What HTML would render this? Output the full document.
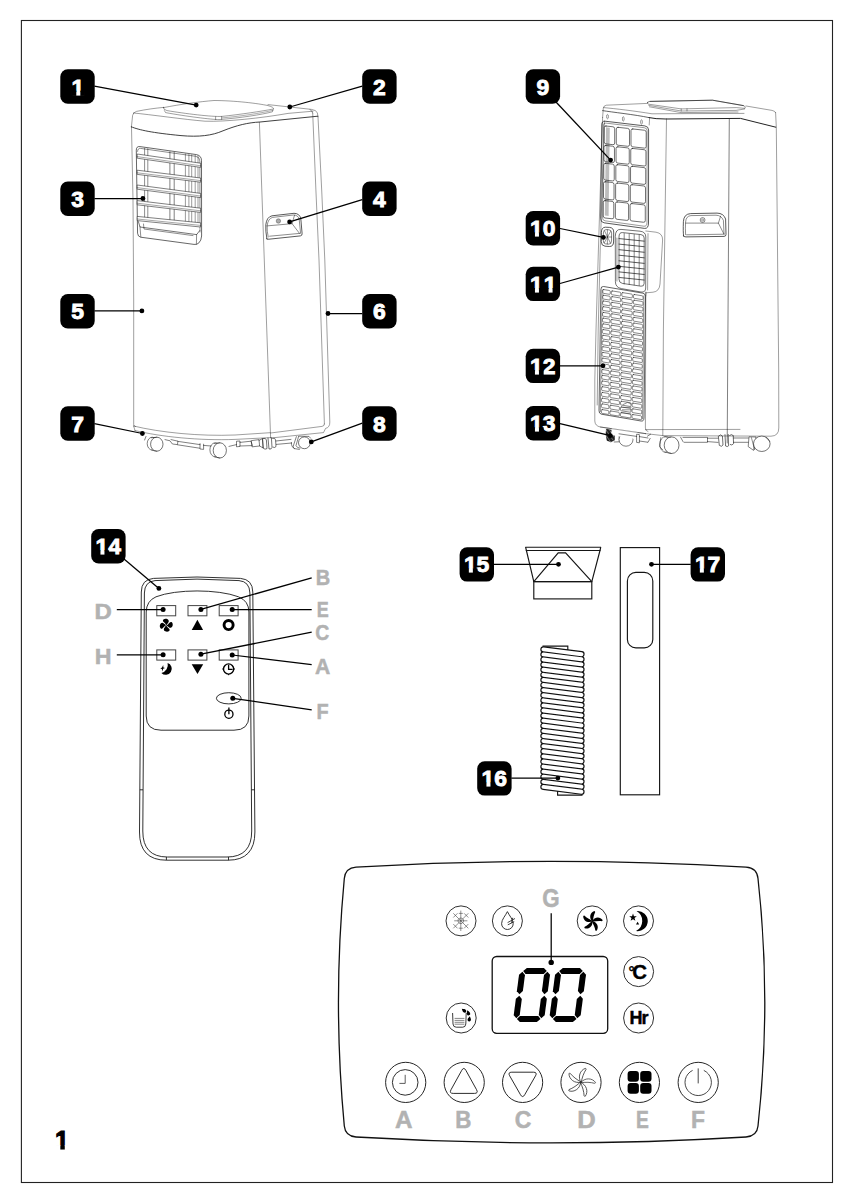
<!DOCTYPE html>
<html lang="en">
<head>
<meta charset="utf-8">
<title>1</title>
<style>
html,body{margin:0;padding:0;background:#fff;}
body{width:855px;height:1200px;overflow:hidden;font-family:'Liberation Sans', sans-serif;}
svg{display:block;}
svg text{font-family:"Liberation Sans",sans-serif;}
</style>
</head>
<body>
<svg width="855" height="1200" viewBox="0 0 855 1200">
<rect width="855" height="1200" fill="#fff"/>
<rect x="21.4" y="20.5" width="811.1" height="1162" fill="none" stroke="#222" stroke-width="1.1"/>
<path d="M131.5 127 L133 200 L133.7 300 L133.7 424.5 Q133.8 426 135.5 426.6" fill="none" stroke="#000" stroke-width="0.38" stroke-linecap="round" stroke-linejoin="round" />
<path d="M133.6 426 C160 432.5 200 436.5 235 435 L270 432.7" fill="none" stroke="#000" stroke-width="0.38" stroke-linecap="round" stroke-linejoin="round" />
<path d="M135 430.5 C160 436.8 200 440.8 235 439.4 L270.8 437.6" fill="none" stroke="#000" stroke-width="0.38" stroke-linecap="round" stroke-linejoin="round" />
<path d="M133.6 426 L135 430.5" fill="none" stroke="#000" stroke-width="0.38" stroke-linecap="round" stroke-linejoin="round" />
<path d="M259.4 122.4 L270.6 437.6" fill="none" stroke="#000" stroke-width="0.38" stroke-linecap="round" stroke-linejoin="round" />
<path d="M312.7 113 L315.9 190 L319 260 L324.4 424" fill="none" stroke="#000" stroke-width="0.38" stroke-linecap="round" stroke-linejoin="round" />
<path d="M318 116.8 L321.7 190 L324.8 260 L329.8 422 Q330 427.4 325.6 428.4 L323.5 432.6 L271 438" fill="none" stroke="#000" stroke-width="0.38" stroke-linecap="round" stroke-linejoin="round" />
<path d="M270.6 433 L322 426.4 Q324.6 426 324.4 424" fill="none" stroke="#000" stroke-width="0.38" stroke-linecap="round" stroke-linejoin="round" />
<path d="M131.4 127 L132.6 115.5 Q133 112.4 136.5 111.4 C146 109.4 155 108.2 163.5 107.4" fill="none" stroke="#000" stroke-width="0.38" stroke-linecap="round" stroke-linejoin="round" />
<path d="M268 104.6 L311.5 109.4 Q316.4 110 317.4 113 L318 116.8" fill="none" stroke="#000" stroke-width="0.38" stroke-linecap="round" stroke-linejoin="round" />
<path d="M312.7 113 Q312.4 110.4 310 109.6" fill="none" stroke="#000" stroke-width="0.38" stroke-linecap="round" stroke-linejoin="round" />
<path d="M133.4 113 C150 114.5 185 119.6 205 121.2 C225 122 262 118 288 113.4 L313 111.2" fill="none" stroke="#000" stroke-width="0.38" stroke-linecap="round" stroke-linejoin="round" />
<path d="M131.3 126.8 C139 130 152 132.8 181 135.6 C199 137.2 212 135.6 223 130.8 C237 125.2 248 122.6 260 122 L317.8 116.2" fill="none" stroke="#2a2a2a" stroke-width="0.9" stroke-linecap="round" stroke-linejoin="round" />
<path d="M163.5 107.6 C180 104.4 200 101.6 214 100.5 C235 100.6 258 103.4 268 105.6 Q274.5 107.4 273.4 109 C262 111.2 240 114.5 222 116.4 C212 117 185 113.6 167 110.6 Q162.6 109.4 163.5 107.6 Z" fill="none" stroke="#000" stroke-width="0.38" stroke-linecap="round" stroke-linejoin="round" />
<path d="M164.4 110.6 L165.6 112.6 C185 116.2 212 119.6 219 119.6 C240 118 262 114.6 272.4 111.8 L273.2 109.6" fill="none" stroke="#000" stroke-width="0.38" stroke-linecap="round" stroke-linejoin="round" />
<path d="M215.6 116.8 V119.6 M221.6 116.6 V119.4" fill="none" stroke="#000" stroke-width="0.38" stroke-linecap="round" stroke-linejoin="round" />
<path d="M222 117.9 C240 116.4 262 113 272.8 110.4" fill="none" stroke="#000" stroke-width="0.32" stroke-linecap="round" stroke-linejoin="round" />
<path d="M136.3 150 Q136.2 146 140 146.6 L196.5 154.6 Q201.4 155.6 201.5 160.5 L201.6 236 Q201.4 240.6 198.6 243.2 Q196.8 244.8 194 244.4 L140.6 237.2 Q137.8 236.6 137.6 233.6 Z" fill="none" stroke="#000" stroke-width="0.6" stroke-linecap="round" stroke-linejoin="round" />
<path d="M137.6 151.4 Q137.6 148 140.6 148.4 L195.8 156.3 Q199.8 157 199.9 161 L200 232" fill="none" stroke="#000" stroke-width="0.45" stroke-linecap="round" stroke-linejoin="round" />
<path d="M144.6 148.3 V219.2" fill="none" stroke="#000" stroke-width="0.45" stroke-linecap="round" stroke-linejoin="round" />
<path d="M147.8 148.7 V219.5" fill="none" stroke="#000" stroke-width="0.45" stroke-linecap="round" stroke-linejoin="round" />
<path d="M169.9 151.8 V221.7" fill="none" stroke="#000" stroke-width="0.5" stroke-linecap="round" stroke-linejoin="round" />
<path d="M174.2 152.4 V222.1" fill="none" stroke="#000" stroke-width="0.5" stroke-linecap="round" stroke-linejoin="round" />
<path d="M185.4 154.0 V223.3" fill="none" stroke="#000" stroke-width="0.4" stroke-linecap="round" stroke-linejoin="round" />
<path d="M188.9 154.5 V223.6" fill="none" stroke="#000" stroke-width="0.4" stroke-linecap="round" stroke-linejoin="round" />
<path d="M191.7 154.9 V223.9" fill="none" stroke="#000" stroke-width="0.4" stroke-linecap="round" stroke-linejoin="round" />
<path d="M195.2 155.4 V224.2" fill="none" stroke="#000" stroke-width="0.4" stroke-linecap="round" stroke-linejoin="round" />
<path d="M198 155.8 V224.5" fill="none" stroke="#000" stroke-width="0.4" stroke-linecap="round" stroke-linejoin="round" />
<path d="M137.2 154 L200.6 163.2 L200.6 167.39999999999998 L137.2 158.2 Z" fill="#fff" stroke="#000" stroke-width="0.5" stroke-linejoin="round"/>
<path d="M137.2 156.6 L200.6 165.79999999999998" fill="none" stroke="#000" stroke-width="0.35" stroke-linecap="round" stroke-linejoin="round" />
<path d="M137.2 170.2 L200.6 178 L200.6 182.2 L137.2 174.39999999999998 Z" fill="#fff" stroke="#000" stroke-width="0.5" stroke-linejoin="round"/>
<path d="M137.2 172.79999999999998 L200.6 180.6" fill="none" stroke="#000" stroke-width="0.35" stroke-linecap="round" stroke-linejoin="round" />
<path d="M137.2 185 L200.6 193.4 L200.6 197.6 L137.2 189.2 Z" fill="#fff" stroke="#000" stroke-width="0.5" stroke-linejoin="round"/>
<path d="M137.2 187.6 L200.6 196.0" fill="none" stroke="#000" stroke-width="0.35" stroke-linecap="round" stroke-linejoin="round" />
<path d="M137.2 200.6 L200.6 208.2 L200.6 212.39999999999998 L137.2 204.79999999999998 Z" fill="#fff" stroke="#000" stroke-width="0.5" stroke-linejoin="round"/>
<path d="M137.2 203.2 L200.6 210.79999999999998" fill="none" stroke="#000" stroke-width="0.35" stroke-linecap="round" stroke-linejoin="round" />
<path d="M137.2 216.4 L200.6 222.8 L200.6 227.0 L137.2 220.6 Z" fill="#fff" stroke="#000" stroke-width="0.5" stroke-linejoin="round"/>
<path d="M137.2 219.0 L200.6 225.4" fill="none" stroke="#000" stroke-width="0.35" stroke-linecap="round" stroke-linejoin="round" />
<path d="M138.4 221.6 L140 227 L196.6 234.6 L199.8 230.5" fill="none" stroke="#000" stroke-width="0.55" stroke-linecap="round" stroke-linejoin="round" />
<path d="M140 227 L140.8 236.8 M196.6 234.6 L196.4 244" fill="none" stroke="#000" stroke-width="0.45" stroke-linecap="round" stroke-linejoin="round" />
<path d="M143.5 224 L144 229 L193 235.6" fill="none" stroke="#000" stroke-width="0.45" stroke-linecap="round" stroke-linejoin="round" />
<path d="M266.9 238.9 Q265.4 231 265.8 224.8 Q266.6 217 272 215.8 L294 213.3 Q299.6 213.4 300.8 218.6 L302.1 233.6 Q302.3 235.6 300.4 235.9 L269 239.2 Q267.2 239.4 266.9 238.9 Z" fill="none" stroke="#000" stroke-width="0.65" stroke-linecap="round" stroke-linejoin="round" />
<path d="M268.2 237 Q266.8 231 267.2 225.6 Q268 218.6 272.6 217.4 L293.4 215 Q298.2 215 299.2 219.4 L300.6 233.4" fill="none" stroke="#000" stroke-width="0.45" stroke-linecap="round" stroke-linejoin="round" />
<path d="M267 225.9 L292.1 223.7 L299.5 233.4 M292.1 223.7 L294.5 215.2 M269.6 236.2 L299.5 233.4" fill="none" stroke="#000" stroke-width="0.45" stroke-linecap="round" stroke-linejoin="round" />
<circle cx="278.4" cy="221" r="2.2" fill="#aaa" stroke="#555" stroke-width="0.5"/>
<ellipse cx="152.20000000000002" cy="443.59999999999997" rx="5.0" ry="6.4" fill="#fff" stroke="#000" stroke-width="0.5"/>
<ellipse cx="156.8" cy="444.2" rx="6.2" ry="7" fill="#fff" stroke="#000" stroke-width="0.55"/>
<path d="M151.20000000000002 437.8 L156.8 437.2 M151.70000000000002 450.2 L156.8 451.2" fill="none" stroke="#000" stroke-width="0.45" stroke-linecap="round" stroke-linejoin="round" />
<ellipse cx="215.20000000000002" cy="449.79999999999995" rx="5.3" ry="7.0" fill="#fff" stroke="#000" stroke-width="0.5"/>
<ellipse cx="219.8" cy="450.4" rx="6.6" ry="7.6" fill="#fff" stroke="#000" stroke-width="0.55"/>
<path d="M214.20000000000002 443.4 L219.8 442.79999999999995 M214.70000000000002 457.0 L219.8 458.0" fill="none" stroke="#000" stroke-width="0.45" stroke-linecap="round" stroke-linejoin="round" />
<path d="M146 436.4 L144.6 440 M165 439.6 L170 440.8 L172.4 444 L177.4 444.6 L178 441.2 L171 439.6" fill="none" stroke="#000" stroke-width="0.5" stroke-linecap="round" stroke-linejoin="round" />
<path d="M178 441.4 L200 444.6 M177.6 444.8 L199.6 448.2 M200 443.6 V449 L203.6 449.4 V444.2" fill="none" stroke="#000" stroke-width="0.5" stroke-linecap="round" stroke-linejoin="round" />
<path d="M203.6 445.4 L211 446 M229 446.4 L236.5 444.6 M236.5 441.6 V446.8 L240 446.4 V441.4 Z" fill="none" stroke="#000" stroke-width="0.5" stroke-linecap="round" stroke-linejoin="round" />
<path d="M240 442.4 L251 441.2 L252.4 445.6 L240 446" fill="none" stroke="#000" stroke-width="0.5" stroke-linecap="round" stroke-linejoin="round" />
<path d="M251.6 440.6 L259 439.6 L259.6 446 L252.4 446.8 Z M259 440.4 L262.4 438.6 L263.2 448 L259.6 446" fill="none" stroke="#000" stroke-width="0.5" stroke-linecap="round" stroke-linejoin="round" />
<path d="M263 438.4 Q266 437.6 266.4 440 L267 448.6 Q265 450 263.4 448.4 Z M268 438 L269 449 Q271.6 449.6 272 447.4 L271.4 437.8 M272.6 438.2 Q275.4 437.6 275.6 440 L276 446.6 Q274.6 448.2 273 447.2" fill="none" stroke="#000" stroke-width="0.55" stroke-linecap="round" stroke-linejoin="round" />
<path d="M276 441 L291 439.4 M276.4 444.4 L291.6 443" fill="none" stroke="#000" stroke-width="0.5" stroke-linecap="round" stroke-linejoin="round" />
<circle cx="304.4" cy="442.8" r="5.9" fill="#fff" stroke="#000" stroke-width="0.55"/>
<path d="M298.6 436.4 L296 445.6 Q297 448 300 448.2 M296.4 436.6 L293.6 445 Q292 447.4 294.4 448.6 L299.4 449.4 M291.4 442.6 Q291 446.8 294.4 448.6 M299 436.2 L309 436.4 L310.6 438.2" fill="none" stroke="#000" stroke-width="0.5" stroke-linecap="round" stroke-linejoin="round" />
<path d="M602.6 117.4 L598.4 250 L596 330 L594.8 380 L594.8 421 Q595 426 600.4 427 L645.4 433.6" fill="none" stroke="#000" stroke-width="0.38" stroke-linecap="round" stroke-linejoin="round" />
<path d="M604.4 121 L600.2 250 L598.2 330 L597.2 405" fill="none" stroke="#000" stroke-width="0.38" stroke-linecap="round" stroke-linejoin="round" />
<path d="M649.6 118 L649.2 125 M645.8 292 L645.4 428 Q645.6 431 648 431.6" fill="none" stroke="#000" stroke-width="0.38" stroke-linecap="round" stroke-linejoin="round" />
<path d="M666.5 118.8 L663.4 330 L662.8 435.6" fill="none" stroke="#000" stroke-width="0.38" stroke-linecap="round" stroke-linejoin="round" />
<path d="M729.3 118.8 L727.2 443" fill="none" stroke="#000" stroke-width="0.5" stroke-linecap="round" stroke-linejoin="round" />
<path d="M650 101.4 L712.5 100.2 L743.4 105.6" fill="none" stroke="#000" stroke-width="0.55" stroke-linecap="round" stroke-linejoin="round" />
<path d="M775.6 112.6 L776.3 127.2 L778.7 370 L778.8 428 Q778.8 436 771 436.2 L733.5 436" fill="none" stroke="#000" stroke-width="0.38" stroke-linecap="round" stroke-linejoin="round" />
<path d="M645.4 429.6 L740 429.4 M645.4 433.6 L662.8 435.6 L733.5 436" fill="none" stroke="#000" stroke-width="0.38" stroke-linecap="round" stroke-linejoin="round" />
<path d="M602.6 117.4 L603.3 108.4 Q603.6 105.4 606.5 105.2 L647.5 103.4" fill="none" stroke="#000" stroke-width="0.38" stroke-linecap="round" stroke-linejoin="round" />
<path d="M746 106 L772 110.4 Q775.2 111 775.6 112.6" fill="none" stroke="#000" stroke-width="0.38" stroke-linecap="round" stroke-linejoin="round" />
<path d="M603.6 107.6 C615 108.6 635 111 652 113.8 L690 113.6 L744 113.4" fill="none" stroke="#000" stroke-width="0.38" stroke-linecap="round" stroke-linejoin="round" />
<path d="M602.6 110.6 C612 112.2 635 114.6 649 117.6" fill="none" stroke="#222" stroke-width="0.7" stroke-linecap="round" stroke-linejoin="round" />
<path d="M649 117.6 Q655 119 666 119 L740.5 118.4 L775.8 127.2" fill="none" stroke="#222" stroke-width="1.0" stroke-linecap="round" stroke-linejoin="round" />
<path d="M647.5 102.6 Q647 101.5 650 101.4 L712.5 100.2 L743.4 105.6 Q746.4 106.6 745 108.4 L736.3 107.6 L681.2 108.9 L648.6 104.2 Q647.4 103.6 647.5 102.6 Z" fill="none" stroke="#000" stroke-width="0.38" stroke-linecap="round" stroke-linejoin="round" />
<path d="M648.8 105.4 L681.2 111 L736 110.4 L744.6 109 M681.2 108.9 V111 M687 108.8 V110.9 M649.4 106.8 L681 112.6 L738 112 " fill="none" stroke="#000" stroke-width="0.38" stroke-linecap="round" stroke-linejoin="round" />
<ellipse cx="607.5" cy="116.6" rx="0.9" ry="2.2" fill="none" stroke="#000" stroke-width="0.4"/>
<ellipse cx="623.3" cy="118.9" rx="0.9" ry="2.2" fill="none" stroke="#000" stroke-width="0.4"/>
<ellipse cx="641.5" cy="122" rx="0.9" ry="2.2" fill="none" stroke="#000" stroke-width="0.4"/>
<path d="M601.8 124.6 Q601.8 120.8 605 121.2 L644.8 125.9 Q648.6 126.5 648.6 130 L648.5 223 Q648.4 228.8 644.6 228.4 L604 222.8 Q600.6 222.2 600.7 219 Z" fill="none" stroke="#111" stroke-width="0.7" stroke-linecap="round" stroke-linejoin="round" />
<path d="M603.4 125.4 Q603.4 122.8 605.8 123.1 L644.2 127.7 Q647.1 128.1 647.1 130.7 L647 222.6 Q646.9 226.6 643.9 226.2 L605 220.8 Q602.4 220.4 602.5 218 Z" fill="none" stroke="#000" stroke-width="0.4" stroke-linecap="round" stroke-linejoin="round" />
<path d="M606 127.2 L609.8 127.7 L608.6 216 L604.8 215.4 Z" fill="#bdbdbd"/>
<path d="M605.99 126.00 L612.89 126.76 Q614.69 126.96 614.69 128.76 L614.69 143.06 Q614.69 144.86 612.89 144.66 L605.99 143.90 Q604.19 143.70 604.19 141.90 L604.19 127.60 Q604.19 125.80 605.99 126.00 Z" fill="none" stroke="#222" stroke-width="0.65" stroke-linecap="round" stroke-linejoin="round" />
<path d="M605.76 145.47 L612.66 146.23 Q614.46 146.43 614.46 148.23 L614.46 160.93 Q614.46 162.73 612.66 162.53 L605.76 161.77 Q603.96 161.57 603.96 159.77 L603.96 147.07 Q603.96 145.27 605.76 145.47 Z" fill="none" stroke="#222" stroke-width="0.65" stroke-linecap="round" stroke-linejoin="round" />
<path d="M605.54 163.35 L612.44 164.11 Q614.24 164.31 614.24 166.11 L614.24 179.31 Q614.24 181.11 612.44 180.91 L605.54 180.15 Q603.74 179.95 603.74 178.15 L603.74 164.95 Q603.74 163.15 605.54 163.35 Z" fill="none" stroke="#222" stroke-width="0.65" stroke-linecap="round" stroke-linejoin="round" />
<path d="M605.32 181.72 L612.22 182.48 Q614.02 182.68 614.02 184.48 L614.02 198.28 Q614.02 200.08 612.22 199.88 L605.32 199.12 Q603.52 198.93 603.52 197.13 L603.52 183.33 Q603.52 181.53 605.32 181.72 Z" fill="none" stroke="#222" stroke-width="0.65" stroke-linecap="round" stroke-linejoin="round" />
<path d="M605.09 200.60 L611.99 201.36 Q613.79 201.56 613.79 203.36 L613.79 217.16 Q613.79 218.96 611.99 218.76 L605.09 218.00 Q603.29 217.80 603.29 216.00 L603.29 202.20 Q603.29 200.40 605.09 200.60 Z" fill="none" stroke="#222" stroke-width="0.65" stroke-linecap="round" stroke-linejoin="round" />
<path d="M618.09 127.33 L627.69 128.39 Q629.49 128.59 629.49 130.39 L629.49 144.69 Q629.49 146.49 627.69 146.29 L618.09 145.23 Q616.29 145.03 616.29 143.23 L616.29 128.93 Q616.29 127.13 618.09 127.33 Z" fill="none" stroke="#222" stroke-width="0.65" stroke-linecap="round" stroke-linejoin="round" />
<path d="M617.86 146.81 L627.46 147.87 Q629.26 148.06 629.26 149.86 L629.26 162.56 Q629.26 164.36 627.46 164.17 L617.86 163.11 Q616.06 162.91 616.06 161.11 L616.06 148.41 Q616.06 146.61 617.86 146.81 Z" fill="none" stroke="#222" stroke-width="0.65" stroke-linecap="round" stroke-linejoin="round" />
<path d="M617.64 164.68 L627.24 165.74 Q629.04 165.94 629.04 167.74 L629.04 180.94 Q629.04 182.74 627.24 182.54 L617.64 181.48 Q615.84 181.28 615.84 179.48 L615.84 166.28 Q615.84 164.48 617.64 164.68 Z" fill="none" stroke="#222" stroke-width="0.65" stroke-linecap="round" stroke-linejoin="round" />
<path d="M617.42 183.06 L627.02 184.12 Q628.82 184.32 628.82 186.12 L628.82 199.92 Q628.82 201.72 627.02 201.52 L617.42 200.46 Q615.62 200.26 615.62 198.46 L615.62 184.66 Q615.62 182.86 617.42 183.06 Z" fill="none" stroke="#222" stroke-width="0.65" stroke-linecap="round" stroke-linejoin="round" />
<path d="M617.19 201.93 L626.79 202.99 Q628.59 203.19 628.59 204.99 L628.59 218.79 Q628.59 220.59 626.79 220.39 L617.19 219.33 Q615.39 219.14 615.39 217.34 L615.39 203.54 Q615.39 201.74 617.19 201.93 Z" fill="none" stroke="#222" stroke-width="0.65" stroke-linecap="round" stroke-linejoin="round" />
<path d="M632.79 128.95 L644.39 130.23 Q646.19 130.43 646.19 132.23 L646.19 146.53 Q646.19 148.33 644.39 148.13 L632.79 146.85 Q630.99 146.66 630.99 144.86 L630.99 130.56 Q630.99 128.76 632.79 128.95 Z" fill="none" stroke="#222" stroke-width="0.65" stroke-linecap="round" stroke-linejoin="round" />
<path d="M632.56 148.43 L644.16 149.71 Q645.96 149.91 645.96 151.71 L645.96 164.41 Q645.96 166.21 644.16 166.01 L632.56 164.73 Q630.76 164.53 630.76 162.73 L630.76 150.03 Q630.76 148.23 632.56 148.43 Z" fill="none" stroke="#222" stroke-width="0.65" stroke-linecap="round" stroke-linejoin="round" />
<path d="M632.34 166.30 L643.94 167.58 Q645.74 167.78 645.74 169.58 L645.74 182.78 Q645.74 184.58 643.94 184.38 L632.34 183.10 Q630.54 182.91 630.54 181.11 L630.54 167.91 Q630.54 166.11 632.34 166.30 Z" fill="none" stroke="#222" stroke-width="0.65" stroke-linecap="round" stroke-linejoin="round" />
<path d="M632.12 184.68 L643.72 185.96 Q645.52 186.16 645.52 187.96 L645.52 201.76 Q645.52 203.56 643.72 203.36 L632.12 202.08 Q630.32 201.88 630.32 200.08 L630.32 186.28 Q630.32 184.48 632.12 184.68 Z" fill="none" stroke="#222" stroke-width="0.65" stroke-linecap="round" stroke-linejoin="round" />
<path d="M631.89 203.56 L643.49 204.84 Q645.29 205.03 645.29 206.83 L645.29 220.63 Q645.29 222.43 643.49 222.24 L631.89 220.96 Q630.09 220.76 630.09 218.96 L630.09 205.16 Q630.09 203.36 631.89 203.56 Z" fill="none" stroke="#222" stroke-width="0.65" stroke-linecap="round" stroke-linejoin="round" />
<path d="M601.4 232 Q601.4 227.4 605.4 227.2 L609.6 227.4 Q613.7 227.8 613.7 232 L613.6 242 Q613.4 246.6 609.4 246.5 L605 246.2 Q601.2 245.8 601.3 242 Z" fill="none" stroke="#111" stroke-width="0.7" stroke-linecap="round" stroke-linejoin="round" />
<path d="M603.4 232.6 Q603.4 229.6 606 229.6 L609 229.8 Q611.6 230 611.6 233 L611.5 241 Q611.4 244.2 608.8 244.1 L605.6 243.9 Q603.2 243.7 603.3 241 Z" fill="none" stroke="#111" stroke-width="0.5" stroke-linecap="round" stroke-linejoin="round" />
<path d="M604.6 231 L610.4 243 M610.6 231.4 L604.4 242.6 M607.4 229.8 V244 M603.4 237 H611.5" fill="none" stroke="#111" stroke-width="0.45" stroke-linecap="round" stroke-linejoin="round" />
<path d="M615.3 236 Q615.4 229 621 229.4 L640 231.2 Q645.8 231.8 645.8 237 L645.7 288 Q645.6 292.6 641 292 L621.4 288.6 Q615.4 287.4 615.4 282 Z" fill="none" stroke="#000" stroke-width="0.55" stroke-linecap="round" stroke-linejoin="round" />
<path d="M619 236.6 Q619 232.2 622.6 232.6 L641 234.6 Q644.2 235 644.2 238 L644.1 283.6 Q644 286.6 641 286.2 L622.4 283.4 Q619 282.8 619 279.6 Z" fill="none" stroke="#111" stroke-width="0.6" stroke-linecap="round" stroke-linejoin="round" />
<path d="M616.9 238 L616.9 281" fill="none" stroke="#aaa" stroke-width="1.2" stroke-linecap="round" stroke-linejoin="round" />
<path d="M619 238.56 L644.2 241.16" fill="none" stroke="#222" stroke-width="0.75" stroke-linecap="round" stroke-linejoin="round" />
<path d="M619 244.11 L644.2 246.71" fill="none" stroke="#222" stroke-width="0.75" stroke-linecap="round" stroke-linejoin="round" />
<path d="M619 249.67 L644.2 252.27" fill="none" stroke="#222" stroke-width="0.75" stroke-linecap="round" stroke-linejoin="round" />
<path d="M619 255.22 L644.2 257.82" fill="none" stroke="#222" stroke-width="0.75" stroke-linecap="round" stroke-linejoin="round" />
<path d="M619 260.78 L644.2 263.38" fill="none" stroke="#222" stroke-width="0.75" stroke-linecap="round" stroke-linejoin="round" />
<path d="M619 266.33 L644.2 268.93" fill="none" stroke="#222" stroke-width="0.75" stroke-linecap="round" stroke-linejoin="round" />
<path d="M619 271.89 L644.2 274.49" fill="none" stroke="#222" stroke-width="0.75" stroke-linecap="round" stroke-linejoin="round" />
<path d="M619 277.44 L644.2 280.04" fill="none" stroke="#222" stroke-width="0.75" stroke-linecap="round" stroke-linejoin="round" />
<path d="M624.2 233.52 V283.92" fill="none" stroke="#222" stroke-width="0.55" stroke-linecap="round" stroke-linejoin="round" />
<path d="M629.2 234.02 V284.42" fill="none" stroke="#222" stroke-width="0.55" stroke-linecap="round" stroke-linejoin="round" />
<path d="M634.2 234.52 V284.92" fill="none" stroke="#222" stroke-width="0.55" stroke-linecap="round" stroke-linejoin="round" />
<path d="M639.2 235.02 V285.42" fill="none" stroke="#222" stroke-width="0.55" stroke-linecap="round" stroke-linejoin="round" />
<path d="M645.8 231 L656 232.2 Q662.8 233.4 662.6 240 L660 284 Q659.4 291.6 653 292.2 L646 292.8" fill="none" stroke="#000" stroke-width="0.38" stroke-linecap="round" stroke-linejoin="round" />
<path d="M648 233.6 L647.6 290 M646 292.8 L645.8 296" fill="none" stroke="#000" stroke-width="0.38" stroke-linecap="round" stroke-linejoin="round" />
<path d="M600.9 289 Q601 286 603.6 286.5 L643 293.2 Q645.5 293.8 645.5 296.4 L644 418 Q643.8 421.6 641 421 L601.4 414.2 Q598.9 413.6 599 411 Z" fill="none" stroke="#111" stroke-width="0.65" stroke-linecap="round" stroke-linejoin="round" />
<path d="M602.2 289.8 L600.3 411.6 M643.9 296 L642.6 418.8" fill="none" stroke="#000" stroke-width="0.45" stroke-linecap="round" stroke-linejoin="round" />
<path d="M603.70 289.55 L609.35 290.47 Q610.25 290.61 610.25 291.51 L610.25 293.54 Q610.25 294.44 609.35 294.29 L603.70 293.38 Q602.80 293.23 602.80 292.33 L602.80 290.31 Q602.80 289.41 603.70 289.55 Z" fill="none" stroke="#222" stroke-width="0.55" stroke-linecap="round" stroke-linejoin="round" />
<path d="M612.25 290.94 L619.85 292.17 Q620.75 292.31 620.75 293.21 L620.75 295.24 Q620.75 296.14 619.85 295.99 L612.25 294.76 Q611.35 294.62 611.35 293.72 L611.35 291.69 Q611.35 290.79 612.25 290.94 Z" fill="none" stroke="#222" stroke-width="0.55" stroke-linecap="round" stroke-linejoin="round" />
<path d="M622.75 292.64 L631.45 294.04 Q632.35 294.19 632.35 295.09 L632.35 297.12 Q632.35 298.02 631.45 297.87 L622.75 296.46 Q621.85 296.32 621.85 295.42 L621.85 293.39 Q621.85 292.49 622.75 292.64 Z" fill="none" stroke="#222" stroke-width="0.55" stroke-linecap="round" stroke-linejoin="round" />
<path d="M634.35 294.51 L642.15 295.77 Q643.05 295.92 643.05 296.82 L643.05 298.85 Q643.05 299.75 642.15 299.60 L634.35 298.34 Q633.45 298.19 633.45 297.29 L633.45 295.27 Q633.45 294.37 634.35 294.51 Z" fill="none" stroke="#222" stroke-width="0.55" stroke-linecap="round" stroke-linejoin="round" />
<path d="M603.63 295.27 L609.28 296.18 Q610.18 296.33 610.18 297.23 L610.18 299.26 Q610.18 300.16 609.28 300.01 L603.63 299.10 Q602.73 298.95 602.73 298.05 L602.73 296.02 Q602.73 295.12 603.63 295.27 Z" fill="none" stroke="#222" stroke-width="0.55" stroke-linecap="round" stroke-linejoin="round" />
<path d="M612.18 296.65 L619.78 297.88 Q620.68 298.03 620.68 298.93 L620.68 300.96 Q620.68 301.86 619.78 301.71 L612.18 300.48 Q611.28 300.33 611.28 299.43 L611.28 297.41 Q611.28 296.51 612.18 296.65 Z" fill="none" stroke="#222" stroke-width="0.55" stroke-linecap="round" stroke-linejoin="round" />
<path d="M622.68 298.35 L631.38 299.76 Q632.28 299.90 632.28 300.80 L632.28 302.83 Q632.28 303.73 631.38 303.59 L622.68 302.18 Q621.78 302.03 621.78 301.13 L621.78 299.11 Q621.78 298.21 622.68 298.35 Z" fill="none" stroke="#222" stroke-width="0.55" stroke-linecap="round" stroke-linejoin="round" />
<path d="M634.28 300.23 L642.08 301.49 Q642.98 301.64 642.98 302.54 L642.98 304.56 Q642.98 305.46 642.08 305.32 L634.28 304.06 Q633.38 303.91 633.38 303.01 L633.38 300.98 Q633.38 300.08 634.28 300.23 Z" fill="none" stroke="#222" stroke-width="0.55" stroke-linecap="round" stroke-linejoin="round" />
<path d="M603.56 300.99 L609.21 301.90 Q610.11 302.05 610.11 302.95 L610.11 304.97 Q610.11 305.87 609.21 305.73 L603.56 304.81 Q602.66 304.67 602.66 303.77 L602.66 301.74 Q602.66 300.84 603.56 300.99 Z" fill="none" stroke="#222" stroke-width="0.55" stroke-linecap="round" stroke-linejoin="round" />
<path d="M612.11 302.37 L619.71 303.60 Q620.61 303.74 620.61 304.64 L620.61 306.67 Q620.61 307.57 619.71 307.43 L612.11 306.20 Q611.21 306.05 611.21 305.15 L611.21 303.12 Q611.21 302.22 612.11 302.37 Z" fill="none" stroke="#222" stroke-width="0.55" stroke-linecap="round" stroke-linejoin="round" />
<path d="M622.61 304.07 L631.31 305.48 Q632.21 305.62 632.21 306.52 L632.21 308.55 Q632.21 309.45 631.31 309.30 L622.61 307.89 Q621.71 307.75 621.71 306.85 L621.71 304.82 Q621.71 303.92 622.61 304.07 Z" fill="none" stroke="#222" stroke-width="0.55" stroke-linecap="round" stroke-linejoin="round" />
<path d="M634.21 305.94 L642.01 307.21 Q642.91 307.35 642.91 308.25 L642.91 310.28 Q642.91 311.18 642.01 311.03 L634.21 309.77 Q633.31 309.63 633.31 308.73 L633.31 306.70 Q633.31 305.80 634.21 305.94 Z" fill="none" stroke="#222" stroke-width="0.55" stroke-linecap="round" stroke-linejoin="round" />
<path d="M603.49 306.70 L609.14 307.62 Q610.04 307.76 610.04 308.66 L610.04 310.69 Q610.04 311.59 609.14 311.44 L603.49 310.53 Q602.59 310.38 602.59 309.48 L602.59 307.46 Q602.59 306.56 603.49 306.70 Z" fill="none" stroke="#222" stroke-width="0.55" stroke-linecap="round" stroke-linejoin="round" />
<path d="M612.04 308.08 L619.64 309.31 Q620.54 309.46 620.54 310.36 L620.54 312.39 Q620.54 313.29 619.64 313.14 L612.04 311.91 Q611.14 311.77 611.14 310.87 L611.14 308.84 Q611.14 307.94 612.04 308.08 Z" fill="none" stroke="#222" stroke-width="0.55" stroke-linecap="round" stroke-linejoin="round" />
<path d="M622.54 309.78 L631.24 311.19 Q632.14 311.34 632.14 312.24 L632.14 314.26 Q632.14 315.16 631.24 315.02 L622.54 313.61 Q621.64 313.47 621.64 312.57 L621.64 310.54 Q621.64 309.64 622.54 309.78 Z" fill="none" stroke="#222" stroke-width="0.55" stroke-linecap="round" stroke-linejoin="round" />
<path d="M634.14 311.66 L641.94 312.92 Q642.84 313.07 642.84 313.97 L642.84 316.00 Q642.84 316.90 641.94 316.75 L634.14 315.49 Q633.24 315.34 633.24 314.44 L633.24 312.41 Q633.24 311.51 634.14 311.66 Z" fill="none" stroke="#222" stroke-width="0.55" stroke-linecap="round" stroke-linejoin="round" />
<path d="M603.43 312.42 L609.08 313.33 Q609.98 313.48 609.98 314.38 L609.98 316.40 Q609.98 317.30 609.08 317.16 L603.43 316.24 Q602.53 316.10 602.53 315.20 L602.53 313.17 Q602.53 312.27 603.43 312.42 Z" fill="none" stroke="#222" stroke-width="0.55" stroke-linecap="round" stroke-linejoin="round" />
<path d="M611.98 313.80 L619.58 315.03 Q620.48 315.18 620.48 316.08 L620.48 318.10 Q620.48 319.00 619.58 318.86 L611.98 317.63 Q611.08 317.48 611.08 316.58 L611.08 314.56 Q611.08 313.66 611.98 313.80 Z" fill="none" stroke="#222" stroke-width="0.55" stroke-linecap="round" stroke-linejoin="round" />
<path d="M622.48 315.50 L631.18 316.91 Q632.08 317.05 632.08 317.95 L632.08 319.98 Q632.08 320.88 631.18 320.73 L622.48 319.33 Q621.58 319.18 621.58 318.28 L621.58 316.25 Q621.58 315.35 622.48 315.50 Z" fill="none" stroke="#222" stroke-width="0.55" stroke-linecap="round" stroke-linejoin="round" />
<path d="M634.08 317.38 L641.88 318.64 Q642.78 318.78 642.78 319.68 L642.78 321.71 Q642.78 322.61 641.88 322.47 L634.08 321.20 Q633.18 321.06 633.18 320.16 L633.18 318.13 Q633.18 317.23 634.08 317.38 Z" fill="none" stroke="#222" stroke-width="0.55" stroke-linecap="round" stroke-linejoin="round" />
<path d="M603.36 318.13 L609.01 319.05 Q609.91 319.19 609.91 320.09 L609.91 322.12 Q609.91 323.02 609.01 322.88 L603.36 321.96 Q602.46 321.82 602.46 320.92 L602.46 318.89 Q602.46 317.99 603.36 318.13 Z" fill="none" stroke="#222" stroke-width="0.55" stroke-linecap="round" stroke-linejoin="round" />
<path d="M611.91 319.52 L619.51 320.75 Q620.41 320.89 620.41 321.79 L620.41 323.82 Q620.41 324.72 619.51 324.57 L611.91 323.34 Q611.01 323.20 611.01 322.30 L611.01 320.27 Q611.01 319.37 611.91 319.52 Z" fill="none" stroke="#222" stroke-width="0.55" stroke-linecap="round" stroke-linejoin="round" />
<path d="M622.41 321.22 L631.11 322.62 Q632.01 322.77 632.01 323.67 L632.01 325.70 Q632.01 326.60 631.11 326.45 L622.41 325.04 Q621.51 324.90 621.51 324.00 L621.51 321.97 Q621.51 321.07 622.41 321.22 Z" fill="none" stroke="#222" stroke-width="0.55" stroke-linecap="round" stroke-linejoin="round" />
<path d="M634.01 323.09 L641.81 324.35 Q642.71 324.50 642.71 325.40 L642.71 327.43 Q642.71 328.33 641.81 328.18 L634.01 326.92 Q633.11 326.77 633.11 325.87 L633.11 323.85 Q633.11 322.95 634.01 323.09 Z" fill="none" stroke="#222" stroke-width="0.55" stroke-linecap="round" stroke-linejoin="round" />
<path d="M603.29 323.85 L608.94 324.76 Q609.84 324.91 609.84 325.81 L609.84 327.84 Q609.84 328.74 608.94 328.59 L603.29 327.68 Q602.39 327.53 602.39 326.63 L602.39 324.60 Q602.39 323.70 603.29 323.85 Z" fill="none" stroke="#222" stroke-width="0.55" stroke-linecap="round" stroke-linejoin="round" />
<path d="M611.84 325.23 L619.44 326.46 Q620.34 326.61 620.34 327.51 L620.34 329.54 Q620.34 330.44 619.44 330.29 L611.84 329.06 Q610.94 328.91 610.94 328.01 L610.94 325.99 Q610.94 325.09 611.84 325.23 Z" fill="none" stroke="#222" stroke-width="0.55" stroke-linecap="round" stroke-linejoin="round" />
<path d="M622.34 326.93 L631.04 328.34 Q631.94 328.49 631.94 329.39 L631.94 331.41 Q631.94 332.31 631.04 332.17 L622.34 330.76 Q621.44 330.61 621.44 329.71 L621.44 327.69 Q621.44 326.79 622.34 326.93 Z" fill="none" stroke="#222" stroke-width="0.55" stroke-linecap="round" stroke-linejoin="round" />
<path d="M633.94 328.81 L641.74 330.07 Q642.64 330.22 642.64 331.12 L642.64 333.14 Q642.64 334.04 641.74 333.90 L633.94 332.64 Q633.04 332.49 633.04 331.59 L633.04 329.56 Q633.04 328.66 633.94 328.81 Z" fill="none" stroke="#222" stroke-width="0.55" stroke-linecap="round" stroke-linejoin="round" />
<path d="M603.22 329.57 L608.87 330.48 Q609.77 330.63 609.77 331.53 L609.77 333.55 Q609.77 334.45 608.87 334.31 L603.22 333.39 Q602.32 333.25 602.32 332.35 L602.32 330.32 Q602.32 329.42 603.22 329.57 Z" fill="none" stroke="#222" stroke-width="0.55" stroke-linecap="round" stroke-linejoin="round" />
<path d="M611.77 330.95 L619.37 332.18 Q620.27 332.32 620.27 333.22 L620.27 335.25 Q620.27 336.15 619.37 336.01 L611.77 334.78 Q610.87 334.63 610.87 333.73 L610.87 331.70 Q610.87 330.80 611.77 330.95 Z" fill="none" stroke="#222" stroke-width="0.55" stroke-linecap="round" stroke-linejoin="round" />
<path d="M622.27 332.65 L630.97 334.06 Q631.87 334.20 631.87 335.10 L631.87 337.13 Q631.87 338.03 630.97 337.88 L622.27 336.48 Q621.37 336.33 621.37 335.43 L621.37 333.40 Q621.37 332.50 622.27 332.65 Z" fill="none" stroke="#222" stroke-width="0.55" stroke-linecap="round" stroke-linejoin="round" />
<path d="M633.87 334.53 L641.67 335.79 Q642.57 335.93 642.57 336.83 L642.57 338.86 Q642.57 339.76 641.67 339.61 L633.87 338.35 Q632.97 338.21 632.97 337.31 L632.97 335.28 Q632.97 334.38 633.87 334.53 Z" fill="none" stroke="#222" stroke-width="0.55" stroke-linecap="round" stroke-linejoin="round" />
<path d="M603.15 335.28 L608.80 336.20 Q609.70 336.34 609.70 337.24 L609.70 339.27 Q609.70 340.17 608.80 340.02 L603.15 339.11 Q602.25 338.96 602.25 338.06 L602.25 336.04 Q602.25 335.14 603.15 335.28 Z" fill="none" stroke="#222" stroke-width="0.55" stroke-linecap="round" stroke-linejoin="round" />
<path d="M611.70 336.67 L619.30 337.90 Q620.20 338.04 620.20 338.94 L620.20 340.97 Q620.20 341.87 619.30 341.72 L611.70 340.49 Q610.80 340.35 610.80 339.45 L610.80 337.42 Q610.80 336.52 611.70 336.67 Z" fill="none" stroke="#222" stroke-width="0.55" stroke-linecap="round" stroke-linejoin="round" />
<path d="M622.20 338.36 L630.90 339.77 Q631.80 339.92 631.80 340.82 L631.80 342.85 Q631.80 343.75 630.90 343.60 L622.20 342.19 Q621.30 342.05 621.30 341.15 L621.30 339.12 Q621.30 338.22 622.20 338.36 Z" fill="none" stroke="#222" stroke-width="0.55" stroke-linecap="round" stroke-linejoin="round" />
<path d="M633.80 340.24 L641.60 341.50 Q642.50 341.65 642.50 342.55 L642.50 344.58 Q642.50 345.48 641.60 345.33 L633.80 344.07 Q632.90 343.92 632.90 343.02 L632.90 341.00 Q632.90 340.10 633.80 340.24 Z" fill="none" stroke="#222" stroke-width="0.55" stroke-linecap="round" stroke-linejoin="round" />
<path d="M603.08 341.00 L608.73 341.91 Q609.63 342.06 609.63 342.96 L609.63 344.99 Q609.63 345.89 608.73 345.74 L603.08 344.83 Q602.18 344.68 602.18 343.78 L602.18 341.75 Q602.18 340.85 603.08 341.00 Z" fill="none" stroke="#222" stroke-width="0.55" stroke-linecap="round" stroke-linejoin="round" />
<path d="M611.63 342.38 L619.23 343.61 Q620.13 343.76 620.13 344.66 L620.13 346.68 Q620.13 347.58 619.23 347.44 L611.63 346.21 Q610.73 346.06 610.73 345.16 L610.73 343.14 Q610.73 342.24 611.63 342.38 Z" fill="none" stroke="#222" stroke-width="0.55" stroke-linecap="round" stroke-linejoin="round" />
<path d="M622.13 344.08 L630.83 345.49 Q631.73 345.63 631.73 346.53 L631.73 348.56 Q631.73 349.46 630.83 349.32 L622.13 347.91 Q621.23 347.76 621.23 346.86 L621.23 344.84 Q621.23 343.94 622.13 344.08 Z" fill="none" stroke="#222" stroke-width="0.55" stroke-linecap="round" stroke-linejoin="round" />
<path d="M633.73 345.96 L641.53 347.22 Q642.43 347.37 642.43 348.27 L642.43 350.29 Q642.43 351.19 641.53 351.05 L633.73 349.78 Q632.83 349.64 632.83 348.74 L632.83 346.71 Q632.83 345.81 633.73 345.96 Z" fill="none" stroke="#222" stroke-width="0.55" stroke-linecap="round" stroke-linejoin="round" />
<path d="M603.01 346.71 L608.66 347.63 Q609.56 347.77 609.56 348.67 L609.56 350.70 Q609.56 351.60 608.66 351.46 L603.01 350.54 Q602.11 350.40 602.11 349.50 L602.11 347.47 Q602.11 346.57 603.01 346.71 Z" fill="none" stroke="#222" stroke-width="0.55" stroke-linecap="round" stroke-linejoin="round" />
<path d="M611.56 348.10 L619.16 349.33 Q620.06 349.47 620.06 350.37 L620.06 352.40 Q620.06 353.30 619.16 353.15 L611.56 351.93 Q610.66 351.78 610.66 350.88 L610.66 348.85 Q610.66 347.95 611.56 348.10 Z" fill="none" stroke="#222" stroke-width="0.55" stroke-linecap="round" stroke-linejoin="round" />
<path d="M622.06 349.80 L630.76 351.20 Q631.66 351.35 631.66 352.25 L631.66 354.28 Q631.66 355.18 630.76 355.03 L622.06 353.62 Q621.16 353.48 621.16 352.58 L621.16 350.55 Q621.16 349.65 622.06 349.80 Z" fill="none" stroke="#222" stroke-width="0.55" stroke-linecap="round" stroke-linejoin="round" />
<path d="M633.66 351.67 L641.46 352.94 Q642.36 353.08 642.36 353.98 L642.36 356.01 Q642.36 356.91 641.46 356.76 L633.66 355.50 Q632.76 355.36 632.76 354.46 L632.76 352.43 Q632.76 351.53 633.66 351.67 Z" fill="none" stroke="#222" stroke-width="0.55" stroke-linecap="round" stroke-linejoin="round" />
<path d="M602.94 352.43 L608.59 353.34 Q609.49 353.49 609.49 354.39 L609.49 356.42 Q609.49 357.32 608.59 357.17 L602.94 356.26 Q602.04 356.11 602.04 355.21 L602.04 353.19 Q602.04 352.29 602.94 352.43 Z" fill="none" stroke="#222" stroke-width="0.55" stroke-linecap="round" stroke-linejoin="round" />
<path d="M611.49 353.81 L619.09 355.04 Q619.99 355.19 619.99 356.09 L619.99 358.12 Q619.99 359.02 619.09 358.87 L611.49 357.64 Q610.59 357.50 610.59 356.60 L610.59 354.57 Q610.59 353.67 611.49 353.81 Z" fill="none" stroke="#222" stroke-width="0.55" stroke-linecap="round" stroke-linejoin="round" />
<path d="M621.99 355.51 L630.69 356.92 Q631.59 357.07 631.59 357.97 L631.59 359.99 Q631.59 360.89 630.69 360.75 L621.99 359.34 Q621.09 359.19 621.09 358.29 L621.09 356.27 Q621.09 355.37 621.99 355.51 Z" fill="none" stroke="#222" stroke-width="0.55" stroke-linecap="round" stroke-linejoin="round" />
<path d="M633.59 357.39 L641.39 358.65 Q642.29 358.80 642.29 359.70 L642.29 361.72 Q642.29 362.62 641.39 362.48 L633.59 361.22 Q632.69 361.07 632.69 360.17 L632.69 358.14 Q632.69 357.24 633.59 357.39 Z" fill="none" stroke="#222" stroke-width="0.55" stroke-linecap="round" stroke-linejoin="round" />
<path d="M602.88 358.15 L608.53 359.06 Q609.43 359.21 609.43 360.11 L609.43 362.13 Q609.43 363.03 608.53 362.89 L602.88 361.97 Q601.98 361.83 601.98 360.93 L601.98 358.90 Q601.98 358.00 602.88 358.15 Z" fill="none" stroke="#222" stroke-width="0.55" stroke-linecap="round" stroke-linejoin="round" />
<path d="M611.43 359.53 L619.03 360.76 Q619.93 360.91 619.93 361.81 L619.93 363.83 Q619.93 364.73 619.03 364.59 L611.43 363.36 Q610.53 363.21 610.53 362.31 L610.53 360.28 Q610.53 359.38 611.43 359.53 Z" fill="none" stroke="#222" stroke-width="0.55" stroke-linecap="round" stroke-linejoin="round" />
<path d="M621.93 361.23 L630.63 362.64 Q631.53 362.78 631.53 363.68 L631.53 365.71 Q631.53 366.61 630.63 366.46 L621.93 365.06 Q621.03 364.91 621.03 364.01 L621.03 361.98 Q621.03 361.08 621.93 361.23 Z" fill="none" stroke="#222" stroke-width="0.55" stroke-linecap="round" stroke-linejoin="round" />
<path d="M633.53 363.11 L641.33 364.37 Q642.23 364.51 642.23 365.41 L642.23 367.44 Q642.23 368.34 641.33 368.20 L633.53 366.93 Q632.63 366.79 632.63 365.89 L632.63 363.86 Q632.63 362.96 633.53 363.11 Z" fill="none" stroke="#222" stroke-width="0.55" stroke-linecap="round" stroke-linejoin="round" />
<path d="M602.81 363.86 L608.46 364.78 Q609.36 364.92 609.36 365.82 L609.36 367.85 Q609.36 368.75 608.46 368.60 L602.81 367.69 Q601.91 367.54 601.91 366.64 L601.91 364.62 Q601.91 363.72 602.81 363.86 Z" fill="none" stroke="#222" stroke-width="0.55" stroke-linecap="round" stroke-linejoin="round" />
<path d="M611.36 365.25 L618.96 366.48 Q619.86 366.62 619.86 367.52 L619.86 369.55 Q619.86 370.45 618.96 370.30 L611.36 369.07 Q610.46 368.93 610.46 368.03 L610.46 366.00 Q610.46 365.10 611.36 365.25 Z" fill="none" stroke="#222" stroke-width="0.55" stroke-linecap="round" stroke-linejoin="round" />
<path d="M621.86 366.95 L630.56 368.35 Q631.46 368.50 631.46 369.40 L631.46 371.43 Q631.46 372.33 630.56 372.18 L621.86 370.77 Q620.96 370.63 620.96 369.73 L620.96 367.70 Q620.96 366.80 621.86 366.95 Z" fill="none" stroke="#222" stroke-width="0.55" stroke-linecap="round" stroke-linejoin="round" />
<path d="M633.46 368.82 L641.26 370.08 Q642.16 370.23 642.16 371.13 L642.16 373.16 Q642.16 374.06 641.26 373.91 L633.46 372.65 Q632.56 372.50 632.56 371.60 L632.56 369.58 Q632.56 368.68 633.46 368.82 Z" fill="none" stroke="#222" stroke-width="0.55" stroke-linecap="round" stroke-linejoin="round" />
<path d="M602.74 369.58 L608.39 370.49 Q609.29 370.64 609.29 371.54 L609.29 373.57 Q609.29 374.47 608.39 374.32 L602.74 373.41 Q601.84 373.26 601.84 372.36 L601.84 370.33 Q601.84 369.43 602.74 369.58 Z" fill="none" stroke="#222" stroke-width="0.55" stroke-linecap="round" stroke-linejoin="round" />
<path d="M611.29 370.96 L618.89 372.19 Q619.79 372.34 619.79 373.24 L619.79 375.27 Q619.79 376.17 618.89 376.02 L611.29 374.79 Q610.39 374.64 610.39 373.74 L610.39 371.72 Q610.39 370.82 611.29 370.96 Z" fill="none" stroke="#222" stroke-width="0.55" stroke-linecap="round" stroke-linejoin="round" />
<path d="M621.79 372.66 L630.49 374.07 Q631.39 374.21 631.39 375.11 L631.39 377.14 Q631.39 378.04 630.49 377.90 L621.79 376.49 Q620.89 376.34 620.89 375.44 L620.89 373.42 Q620.89 372.52 621.79 372.66 Z" fill="none" stroke="#222" stroke-width="0.55" stroke-linecap="round" stroke-linejoin="round" />
<path d="M633.39 374.54 L641.19 375.80 Q642.09 375.95 642.09 376.85 L642.09 378.87 Q642.09 379.77 641.19 379.63 L633.39 378.37 Q632.49 378.22 632.49 377.32 L632.49 375.29 Q632.49 374.39 633.39 374.54 Z" fill="none" stroke="#222" stroke-width="0.55" stroke-linecap="round" stroke-linejoin="round" />
<path d="M602.67 375.30 L608.32 376.21 Q609.22 376.36 609.22 377.26 L609.22 379.28 Q609.22 380.18 608.32 380.04 L602.67 379.12 Q601.77 378.98 601.77 378.08 L601.77 376.05 Q601.77 375.15 602.67 375.30 Z" fill="none" stroke="#222" stroke-width="0.55" stroke-linecap="round" stroke-linejoin="round" />
<path d="M611.22 376.68 L618.82 377.91 Q619.72 378.05 619.72 378.95 L619.72 380.98 Q619.72 381.88 618.82 381.74 L611.22 380.51 Q610.32 380.36 610.32 379.46 L610.32 377.43 Q610.32 376.53 611.22 376.68 Z" fill="none" stroke="#222" stroke-width="0.55" stroke-linecap="round" stroke-linejoin="round" />
<path d="M621.72 378.38 L630.42 379.79 Q631.32 379.93 631.32 380.83 L631.32 382.86 Q631.32 383.76 630.42 383.61 L621.72 382.20 Q620.82 382.06 620.82 381.16 L620.82 379.13 Q620.82 378.23 621.72 378.38 Z" fill="none" stroke="#222" stroke-width="0.55" stroke-linecap="round" stroke-linejoin="round" />
<path d="M633.32 380.25 L641.12 381.52 Q642.02 381.66 642.02 382.56 L642.02 384.59 Q642.02 385.49 641.12 385.34 L633.32 384.08 Q632.42 383.94 632.42 383.04 L632.42 381.01 Q632.42 380.11 633.32 380.25 Z" fill="none" stroke="#222" stroke-width="0.55" stroke-linecap="round" stroke-linejoin="round" />
<path d="M602.60 381.01 L608.25 381.93 Q609.15 382.07 609.15 382.97 L609.15 385.00 Q609.15 385.90 608.25 385.75 L602.60 384.84 Q601.70 384.69 601.70 383.79 L601.70 381.77 Q601.70 380.87 602.60 381.01 Z" fill="none" stroke="#222" stroke-width="0.55" stroke-linecap="round" stroke-linejoin="round" />
<path d="M611.15 382.39 L618.75 383.62 Q619.65 383.77 619.65 384.67 L619.65 386.70 Q619.65 387.60 618.75 387.45 L611.15 386.22 Q610.25 386.08 610.25 385.18 L610.25 383.15 Q610.25 382.25 611.15 382.39 Z" fill="none" stroke="#222" stroke-width="0.55" stroke-linecap="round" stroke-linejoin="round" />
<path d="M621.65 384.09 L630.35 385.50 Q631.25 385.65 631.25 386.55 L631.25 388.57 Q631.25 389.47 630.35 389.33 L621.65 387.92 Q620.75 387.78 620.75 386.88 L620.75 384.85 Q620.75 383.95 621.65 384.09 Z" fill="none" stroke="#222" stroke-width="0.55" stroke-linecap="round" stroke-linejoin="round" />
<path d="M633.25 385.97 L641.05 387.23 Q641.95 387.38 641.95 388.28 L641.95 390.31 Q641.95 391.21 641.05 391.06 L633.25 389.80 Q632.35 389.65 632.35 388.75 L632.35 386.72 Q632.35 385.82 633.25 385.97 Z" fill="none" stroke="#222" stroke-width="0.55" stroke-linecap="round" stroke-linejoin="round" />
<path d="M602.53 386.73 L608.18 387.64 Q609.08 387.79 609.08 388.69 L609.08 390.71 Q609.08 391.61 608.18 391.47 L602.53 390.55 Q601.63 390.41 601.63 389.51 L601.63 387.48 Q601.63 386.58 602.53 386.73 Z" fill="none" stroke="#222" stroke-width="0.55" stroke-linecap="round" stroke-linejoin="round" />
<path d="M611.08 388.11 L618.68 389.34 Q619.58 389.49 619.58 390.39 L619.58 392.41 Q619.58 393.31 618.68 393.17 L611.08 391.94 Q610.18 391.79 610.18 390.89 L610.18 388.87 Q610.18 387.97 611.08 388.11 Z" fill="none" stroke="#222" stroke-width="0.55" stroke-linecap="round" stroke-linejoin="round" />
<path d="M621.58 389.81 L630.28 391.22 Q631.18 391.36 631.18 392.26 L631.18 394.29 Q631.18 395.19 630.28 395.04 L621.58 393.64 Q620.68 393.49 620.68 392.59 L620.68 390.56 Q620.68 389.66 621.58 389.81 Z" fill="none" stroke="#222" stroke-width="0.55" stroke-linecap="round" stroke-linejoin="round" />
<path d="M633.18 391.69 L640.98 392.95 Q641.88 393.09 641.88 393.99 L641.88 396.02 Q641.88 396.92 640.98 396.78 L633.18 395.51 Q632.28 395.37 632.28 394.47 L632.28 392.44 Q632.28 391.54 633.18 391.69 Z" fill="none" stroke="#222" stroke-width="0.55" stroke-linecap="round" stroke-linejoin="round" />
<path d="M602.46 392.44 L608.11 393.36 Q609.01 393.50 609.01 394.40 L609.01 396.43 Q609.01 397.33 608.11 397.19 L602.46 396.27 Q601.56 396.13 601.56 395.23 L601.56 393.20 Q601.56 392.30 602.46 392.44 Z" fill="none" stroke="#222" stroke-width="0.55" stroke-linecap="round" stroke-linejoin="round" />
<path d="M611.01 393.83 L618.61 395.06 Q619.51 395.20 619.51 396.10 L619.51 398.13 Q619.51 399.03 618.61 398.88 L611.01 397.65 Q610.11 397.51 610.11 396.61 L610.11 394.58 Q610.11 393.68 611.01 393.83 Z" fill="none" stroke="#222" stroke-width="0.55" stroke-linecap="round" stroke-linejoin="round" />
<path d="M621.51 395.53 L630.21 396.93 Q631.11 397.08 631.11 397.98 L631.11 400.01 Q631.11 400.91 630.21 400.76 L621.51 399.35 Q620.61 399.21 620.61 398.31 L620.61 396.28 Q620.61 395.38 621.51 395.53 Z" fill="none" stroke="#222" stroke-width="0.55" stroke-linecap="round" stroke-linejoin="round" />
<path d="M633.11 397.40 L640.91 398.66 Q641.81 398.81 641.81 399.71 L641.81 401.74 Q641.81 402.64 640.91 402.49 L633.11 401.23 Q632.21 401.08 632.21 400.18 L632.21 398.16 Q632.21 397.26 633.11 397.40 Z" fill="none" stroke="#222" stroke-width="0.55" stroke-linecap="round" stroke-linejoin="round" />
<path d="M602.39 398.16 L608.04 399.07 Q608.94 399.22 608.94 400.12 L608.94 402.15 Q608.94 403.05 608.04 402.90 L602.39 401.99 Q601.49 401.84 601.49 400.94 L601.49 398.91 Q601.49 398.01 602.39 398.16 Z" fill="none" stroke="#222" stroke-width="0.55" stroke-linecap="round" stroke-linejoin="round" />
<path d="M610.94 399.54 L618.54 400.77 Q619.44 400.92 619.44 401.82 L619.44 403.85 Q619.44 404.75 618.54 404.60 L610.94 403.37 Q610.04 403.22 610.04 402.32 L610.04 400.30 Q610.04 399.40 610.94 399.54 Z" fill="none" stroke="#222" stroke-width="0.55" stroke-linecap="round" stroke-linejoin="round" />
<path d="M621.44 401.24 L630.14 402.65 Q631.04 402.80 631.04 403.70 L631.04 405.72 Q631.04 406.62 630.14 406.48 L621.44 405.07 Q620.54 404.92 620.54 404.02 L620.54 402.00 Q620.54 401.10 621.44 401.24 Z" fill="none" stroke="#222" stroke-width="0.55" stroke-linecap="round" stroke-linejoin="round" />
<path d="M633.04 403.12 L640.84 404.38 Q641.74 404.53 641.74 405.43 L641.74 407.45 Q641.74 408.35 640.84 408.21 L633.04 406.95 Q632.14 406.80 632.14 405.90 L632.14 403.87 Q632.14 402.97 633.04 403.12 Z" fill="none" stroke="#222" stroke-width="0.55" stroke-linecap="round" stroke-linejoin="round" />
<path d="M602.33 403.88 L607.98 404.79 Q608.88 404.94 608.88 405.84 L608.88 407.86 Q608.88 408.76 607.98 408.62 L602.33 407.70 Q601.43 407.56 601.43 406.66 L601.43 404.63 Q601.43 403.73 602.33 403.88 Z" fill="none" stroke="#222" stroke-width="0.55" stroke-linecap="round" stroke-linejoin="round" />
<path d="M610.88 405.26 L618.48 406.49 Q619.38 406.63 619.38 407.53 L619.38 409.56 Q619.38 410.46 618.48 410.32 L610.88 409.09 Q609.98 408.94 609.98 408.04 L609.98 406.01 Q609.98 405.11 610.88 405.26 Z" fill="none" stroke="#222" stroke-width="0.55" stroke-linecap="round" stroke-linejoin="round" />
<path d="M621.38 406.96 L630.08 408.37 Q630.98 408.51 630.98 409.41 L630.98 411.44 Q630.98 412.34 630.08 412.19 L621.38 410.79 Q620.48 410.64 620.48 409.74 L620.48 407.71 Q620.48 406.81 621.38 406.96 Z" fill="none" stroke="#222" stroke-width="0.55" stroke-linecap="round" stroke-linejoin="round" />
<path d="M632.98 408.84 L640.78 410.10 Q641.68 410.24 641.68 411.14 L641.68 413.17 Q641.68 414.07 640.78 413.92 L632.98 412.66 Q632.08 412.52 632.08 411.62 L632.08 409.59 Q632.08 408.69 632.98 408.84 Z" fill="none" stroke="#222" stroke-width="0.55" stroke-linecap="round" stroke-linejoin="round" />
<path d="M602.26 409.59 L607.91 410.51 Q608.81 410.65 608.81 411.55 L608.81 413.58 Q608.81 414.48 607.91 414.33 L602.26 413.42 Q601.36 413.27 601.36 412.37 L601.36 410.35 Q601.36 409.45 602.26 409.59 Z" fill="none" stroke="#222" stroke-width="0.55" stroke-linecap="round" stroke-linejoin="round" />
<path d="M610.81 410.98 L618.41 412.21 Q619.31 412.35 619.31 413.25 L619.31 415.28 Q619.31 416.18 618.41 416.03 L610.81 414.80 Q609.91 414.66 609.91 413.76 L609.91 411.73 Q609.91 410.83 610.81 410.98 Z" fill="none" stroke="#222" stroke-width="0.55" stroke-linecap="round" stroke-linejoin="round" />
<path d="M621.31 412.67 L630.01 414.08 Q630.91 414.23 630.91 415.13 L630.91 417.16 Q630.91 418.06 630.01 417.91 L621.31 416.50 Q620.41 416.36 620.41 415.46 L620.41 413.43 Q620.41 412.53 621.31 412.67 Z" fill="none" stroke="#222" stroke-width="0.55" stroke-linecap="round" stroke-linejoin="round" />
<path d="M632.91 414.55 L640.71 415.81 Q641.61 415.96 641.61 416.86 L641.61 418.89 Q641.61 419.79 640.71 419.64 L632.91 418.38 Q632.01 418.23 632.01 417.33 L632.01 415.31 Q632.01 414.41 632.91 414.55 Z" fill="none" stroke="#222" stroke-width="0.55" stroke-linecap="round" stroke-linejoin="round" />
<path d="M623 404.6 L627.6 402.4 L631 404 M622.6 407.4 H631 M622.4 409.8 H631.2 M622 412.6 L631 414" fill="none" stroke="#222" stroke-width="0.5" stroke-linecap="round" stroke-linejoin="round" />
<path d="M683.6 236 Q683 232 683.4 221.6 Q683.8 214 690.6 213.6 L717 213.1 Q723.6 213.2 725.6 219 L726 234.4 Q726 236.4 724 236.4 L686 236.9 Q683.9 237 683.6 236 Z" fill="none" stroke="#111" stroke-width="0.7" stroke-linecap="round" stroke-linejoin="round" />
<path d="M685.6 234.6 Q685.2 228 685.6 222 Q686 216 691 215.6 L716 215.2 Q721.4 215.4 723.4 220.4 L724 233.6" fill="none" stroke="#000" stroke-width="0.45" stroke-linecap="round" stroke-linejoin="round" />
<path d="M685.8 223.1 L718.4 223.1 L724 234.2 M718.4 223.1 L720.6 216.2 M686.6 234.8 L724 234.2" fill="none" stroke="#000" stroke-width="0.45" stroke-linecap="round" stroke-linejoin="round" />
<circle cx="702.6" cy="220" r="2.4" fill="none" stroke="#222" stroke-width="0.55"/>
<circle cx="702.6" cy="220" r="1" fill="none" stroke="#222" stroke-width="0.45"/>
<path d="M606.6 429 L611.6 430.2 L614.6 434.4 L614.4 440.2 L610.8 441.8 L607 440.4 L606 433.2 Z" fill="#222" stroke="#000" stroke-width="0.5"/>
<path d="M606 430 L613 440 M605 434 L611 442.6 M608.6 428.6 L614.2 437" fill="none" stroke="#bbb" stroke-width="0.5" stroke-linecap="round" stroke-linejoin="round" />
<path d="M614.6 434 L619 433.6 L619.4 441.8 L614.2 442" fill="none" stroke="#000" stroke-width="0.5" stroke-linecap="round" stroke-linejoin="round" />
<ellipse cx="626" cy="439.6" rx="7" ry="6.6" fill="#fff" stroke="#000" stroke-width="0.5"/>
<rect x="612" y="427.8" width="26" height="7.4" fill="#fff" stroke="none" transform="rotate(9 612 427.8)"/>
<path d="M619 433.8 L636.6 436.4 M636.6 434.6 V442.4 L639.4 442.8 V435 Z M639.4 436.6 L648 438 M639.4 441 L647.6 442.2 M647.4 436.2 L650.6 434.2 M648 442.2 L650.2 438.4" fill="none" stroke="#000" stroke-width="0.5" stroke-linecap="round" stroke-linejoin="round" />
<path d="M600.4 427 L645.4 433.6" fill="none" stroke="#000" stroke-width="0.38" stroke-linecap="round" stroke-linejoin="round" />
<ellipse cx="665.4" cy="444.4" rx="5.6" ry="7.8" fill="#fff" stroke="#000" stroke-width="0.5"/>
<ellipse cx="671.6" cy="445.2" rx="7.4" ry="8.3" fill="#fff" stroke="#000" stroke-width="0.55"/>
<path d="M664.6 436.8 L671 437 M664.8 452.2 L671.2 453.4 M660.8 437.6 L659.6 446.6 L663 450" fill="none" stroke="#000" stroke-width="0.45" stroke-linecap="round" stroke-linejoin="round" />
<path d="M683 437.4 H707.5 V442.3 H684 M680.6 437.2 L683 441.6 M707.5 438.2 H718 M707.5 441.6 L718 442.4" fill="none" stroke="#000" stroke-width="0.5" stroke-linecap="round" stroke-linejoin="round" />
<path d="M718.6 436 Q720.6 433.6 722.4 436 L723 445 Q721.6 447.4 719.6 445.6 Z M725 434.6 L725.6 446 Q727.4 447.2 728.6 445.8 L728.2 434.4 M729.6 435.4 Q731.6 433.6 733.2 435.6 L733.6 443.6 Q732 446 730.2 444.6" fill="none" stroke="#111" stroke-width="0.6" stroke-linecap="round" stroke-linejoin="round" />
<path d="M733.5 438 H748.4 M733.6 442.3 H748.4" fill="none" stroke="#000" stroke-width="0.5" stroke-linecap="round" stroke-linejoin="round" />
<path d="M749 436.8 L748.2 446.6 L753.6 450.4 L756 437 Z" fill="#fff" stroke="#000" stroke-width="0.5"/>
<ellipse cx="761.8" cy="443.8" rx="8.3" ry="7.7" fill="#fff" stroke="#000" stroke-width="0.55"/>
<path d="M751.4 437.6 L754.6 449.6 M766 437.4 L769.6 441.4" fill="none" stroke="#000" stroke-width="0.45" stroke-linecap="round" stroke-linejoin="round" />
<line x1="94.4" y1="86.2" x2="196.2" y2="105.1" stroke="#000" stroke-width="1.25"/>
<circle cx="196.2" cy="105.1" r="2.4" fill="#000"/>
<line x1="362.3" y1="86.2" x2="289.8" y2="107" stroke="#000" stroke-width="1.25"/>
<circle cx="289.8" cy="107" r="2.4" fill="#000"/>
<line x1="94.4" y1="198.5" x2="142.9" y2="198.5" stroke="#000" stroke-width="1.25"/>
<circle cx="142.9" cy="198.5" r="2.4" fill="#000"/>
<line x1="362.3" y1="199.6" x2="289.6" y2="221.9" stroke="#000" stroke-width="1.25"/>
<circle cx="289.6" cy="221.9" r="2.4" fill="#000"/>
<line x1="94.4" y1="310.9" x2="141.9" y2="310.9" stroke="#000" stroke-width="1.25"/>
<circle cx="141.9" cy="310.9" r="2.4" fill="#000"/>
<line x1="362.3" y1="313.5" x2="328" y2="313.5" stroke="#000" stroke-width="1.25"/>
<circle cx="328" cy="313.5" r="2.4" fill="#000"/>
<line x1="94.4" y1="423.6" x2="142.4" y2="433.5" stroke="#000" stroke-width="1.25"/>
<circle cx="142.4" cy="433.5" r="2.4" fill="#000"/>
<line x1="362.3" y1="423.2" x2="311.3" y2="441.9" stroke="#000" stroke-width="1.25"/>
<circle cx="311.3" cy="441.9" r="2.4" fill="#000"/>
<rect x="60.3" y="69.3" width="34.4" height="34.4" rx="7.5" ry="7.5" fill="#000"/>
<g transform="translate(77.50 94.50) scale(1.04 1)"><text y="0" font-size="22.0" font-weight="700" fill="#fff" stroke="#fff" stroke-width="0.85" stroke-linejoin="miter"><tspan x="-5.87">1</tspan></text><rect x="-5.91" y="-3.87" width="4.75" height="5.30" fill="#000"/><rect x="2.71" y="-3.87" width="4.47" height="5.30" fill="#000"/></g>
<rect x="362.2" y="69.3" width="34.4" height="34.4" rx="7.5" ry="7.5" fill="#000"/>
<g transform="translate(379.40 94.50) scale(1.04 1)"><text y="0" font-size="22.0" font-weight="700" fill="#fff" stroke="#fff" stroke-width="0.85" stroke-linejoin="miter"><tspan x="-6.12">2</tspan></text></g>
<rect x="60.3" y="181.5" width="34.4" height="34.4" rx="7.5" ry="7.5" fill="#000"/>
<g transform="translate(77.50 206.70) scale(1.04 1)"><text y="0" font-size="22.0" font-weight="700" fill="#fff" stroke="#fff" stroke-width="0.85" stroke-linejoin="miter"><tspan x="-6.12">3</tspan></text></g>
<rect x="362.2" y="181.5" width="34.4" height="34.4" rx="7.5" ry="7.5" fill="#000"/>
<g transform="translate(379.40 206.70) scale(1.04 1)"><text y="0" font-size="22.0" font-weight="700" fill="#fff" stroke="#fff" stroke-width="0.85" stroke-linejoin="miter"><tspan x="-6.12">4</tspan></text></g>
<rect x="60.3" y="294" width="34.4" height="34.4" rx="7.5" ry="7.5" fill="#000"/>
<g transform="translate(77.50 319.20) scale(1.04 1)"><text y="0" font-size="22.0" font-weight="700" fill="#fff" stroke="#fff" stroke-width="0.85" stroke-linejoin="miter"><tspan x="-6.12">5</tspan></text></g>
<rect x="362.2" y="294" width="34.4" height="34.4" rx="7.5" ry="7.5" fill="#000"/>
<g transform="translate(379.40 319.20) scale(1.04 1)"><text y="0" font-size="22.0" font-weight="700" fill="#fff" stroke="#fff" stroke-width="0.85" stroke-linejoin="miter"><tspan x="-6.12">6</tspan></text></g>
<rect x="60.3" y="406.3" width="34.4" height="34.4" rx="7.5" ry="7.5" fill="#000"/>
<g transform="translate(77.50 431.50) scale(1.04 1)"><text y="0" font-size="22.0" font-weight="700" fill="#fff" stroke="#fff" stroke-width="0.85" stroke-linejoin="miter"><tspan x="-6.12">7</tspan></text></g>
<rect x="362.2" y="406.3" width="34.4" height="34.4" rx="7.5" ry="7.5" fill="#000"/>
<g transform="translate(379.40 431.50) scale(1.04 1)"><text y="0" font-size="22.0" font-weight="700" fill="#fff" stroke="#fff" stroke-width="0.85" stroke-linejoin="miter"><tspan x="-6.12">8</tspan></text></g>
<line x1="556" y1="102" x2="610.6" y2="160.1" stroke="#000" stroke-width="1.25"/>
<circle cx="610.6" cy="160.1" r="2.4" fill="#000"/>
<line x1="560" y1="228.5" x2="603.4" y2="237.4" stroke="#000" stroke-width="1.25"/>
<circle cx="603.4" cy="237.4" r="2.4" fill="#000"/>
<line x1="560" y1="283.5" x2="618.4" y2="267.1" stroke="#000" stroke-width="1.25"/>
<circle cx="618.4" cy="267.1" r="2.4" fill="#000"/>
<line x1="560" y1="365.8" x2="603" y2="365.8" stroke="#000" stroke-width="1.25"/>
<circle cx="603" cy="365.8" r="2.4" fill="#000"/>
<line x1="560" y1="423.6" x2="610.4" y2="435.7" stroke="#000" stroke-width="1.25"/>
<circle cx="610.4" cy="435.7" r="2.4" fill="#000"/>
<rect x="525.7" y="69.3" width="34.4" height="34.4" rx="7.5" ry="7.5" fill="#000"/>
<g transform="translate(542.90 94.50) scale(1.04 1)"><text y="0" font-size="22.0" font-weight="700" fill="#fff" stroke="#fff" stroke-width="0.85" stroke-linejoin="miter"><tspan x="-6.12">9</tspan></text></g>
<rect x="525.7" y="211.1" width="34.4" height="34.4" rx="7.5" ry="7.5" fill="#000"/>
<g transform="translate(542.90 236.30) scale(1.04 1)"><text y="0" font-size="22.0" font-weight="700" fill="#fff" stroke="#fff" stroke-width="0.85" stroke-linejoin="miter"><tspan x="-12.37">1</tspan><tspan x="-0.24">0</tspan></text><rect x="-12.40" y="-3.87" width="4.75" height="5.30" fill="#000"/><rect x="-3.79" y="-3.87" width="4.47" height="5.30" fill="#000"/></g>
<rect x="525.7" y="266.7" width="34.4" height="34.4" rx="7.5" ry="7.5" fill="#000"/>
<g transform="translate(542.90 291.90) scale(1.04 1)"><text y="0" font-size="22.0" font-weight="700" fill="#fff" stroke="#fff" stroke-width="0.85" stroke-linejoin="miter"><tspan x="-12.37">1</tspan><tspan x="0.72">1</tspan></text><rect x="-12.40" y="-3.87" width="4.75" height="5.30" fill="#000"/><rect x="-3.79" y="-3.87" width="4.47" height="5.30" fill="#000"/><rect x="0.68" y="-3.87" width="4.75" height="5.30" fill="#000"/><rect x="9.30" y="-3.87" width="4.47" height="5.30" fill="#000"/></g>
<rect x="525.7" y="348.7" width="34.4" height="34.4" rx="7.5" ry="7.5" fill="#000"/>
<g transform="translate(542.90 373.90) scale(1.04 1)"><text y="0" font-size="22.0" font-weight="700" fill="#fff" stroke="#fff" stroke-width="0.85" stroke-linejoin="miter"><tspan x="-12.37">1</tspan><tspan x="-0.24">2</tspan></text><rect x="-12.40" y="-3.87" width="4.75" height="5.30" fill="#000"/><rect x="-3.79" y="-3.87" width="4.47" height="5.30" fill="#000"/></g>
<rect x="525.7" y="406" width="34.4" height="34.4" rx="7.5" ry="7.5" fill="#000"/>
<g transform="translate(542.90 431.20) scale(1.04 1)"><text y="0" font-size="22.0" font-weight="700" fill="#fff" stroke="#fff" stroke-width="0.85" stroke-linejoin="miter"><tspan x="-12.37">1</tspan><tspan x="-0.24">3</tspan></text><rect x="-12.40" y="-3.87" width="4.75" height="5.30" fill="#000"/><rect x="-3.79" y="-3.87" width="4.47" height="5.30" fill="#000"/></g>
<path d="M153.5 578.4 Q197 575.6 240.5 578.4 Q252.6 579.4 252.8 592 L254.9 832 Q254.9 860.2 228 860.2 L166.5 860.2 Q139.4 860.2 139.5 832 L141.3 592 Q141.4 579.4 153.5 578.4 Z" fill="none" stroke="#1a1a1a" stroke-width="0.9"/>
<path d="M155 580.6 Q197 577.6 239 580.6 Q249.6 581.6 249.9 593 L251.7 831 Q251.7 857 227 857 L167.5 857 Q142.7 857 142.8 831 L144.4 593 Q144.6 581.6 155 580.6 Z" fill="none" stroke="#1a1a1a" stroke-width="0.9"/>
<path d="M139.9 789.8 H143 M251.4 789.8 H254.6 M166.4 857 V860.2 M228.5 857 V860.2" fill="none" stroke="#1a1a1a" stroke-width="0.9"/>
<path d="M146.2 612 Q146.4 601 156 596.8 C176 589 218 589 238.5 596.8 Q248.9 601 248.9 612 L248.9 716 Q248.9 730.2 234 730.2 L161 730.2 Q146.2 730.2 146.2 716 Z" fill="none" stroke="#1a1a1a" stroke-width="0.9"/>
<rect x="156.8" y="605.6" width="18.9" height="10.2" fill="#fff" stroke="#444" stroke-width="1"/>
<rect x="188" y="605.6" width="18.9" height="10.2" fill="#fff" stroke="#444" stroke-width="1"/>
<rect x="219.2" y="605.6" width="18.9" height="10.2" fill="#fff" stroke="#444" stroke-width="1"/>
<rect x="156.8" y="649.9" width="18.9" height="10.2" fill="#fff" stroke="#444" stroke-width="1"/>
<rect x="188" y="649.9" width="18.9" height="10.2" fill="#fff" stroke="#444" stroke-width="1"/>
<rect x="219.2" y="649.9" width="18.9" height="10.2" fill="#fff" stroke="#444" stroke-width="1"/>
<ellipse cx="228.8" cy="698.3" rx="12.4" ry="5.6" fill="none" stroke="#1a1a1a" stroke-width="0.9"/>
<path d="M0 0 C -0.59 -2.36 -5.31 -2.66 -3.66 -5.31 C -1.18 -7.67 3.66 -5.61 1.30 -2.48 C 0.89 -1.48 0.59 -0.59 0 0 Z" transform="translate(166.3 625.3) rotate(8.0)" fill="#000"/>
<path d="M0 0 C -0.59 -2.36 -5.31 -2.66 -3.66 -5.31 C -1.18 -7.67 3.66 -5.61 1.30 -2.48 C 0.89 -1.48 0.59 -0.59 0 0 Z" transform="translate(166.3 625.3) rotate(98.0)" fill="#000"/>
<path d="M0 0 C -0.59 -2.36 -5.31 -2.66 -3.66 -5.31 C -1.18 -7.67 3.66 -5.61 1.30 -2.48 C 0.89 -1.48 0.59 -0.59 0 0 Z" transform="translate(166.3 625.3) rotate(188.0)" fill="#000"/>
<path d="M0 0 C -0.59 -2.36 -5.31 -2.66 -3.66 -5.31 C -1.18 -7.67 3.66 -5.61 1.30 -2.48 C 0.89 -1.48 0.59 -0.59 0 0 Z" transform="translate(166.3 625.3) rotate(278.0)" fill="#000"/>
<path d="M197.4 619.7 L203.1 629.9 L191.7 629.9 Z" fill="#000"/>
<circle cx="228.6" cy="625.1" r="4.55" fill="none" stroke="#000" stroke-width="2.9"/>
<path d="M167.6 663.1 A6 6 0 1 1 161.4 672.9 A8 8 0 0 0 167.6 663.1 Z" fill="#000"/>
<path d="M163.2 665 L163.4 667.4 L165 668 L163.2 668.8 L162.2 671.6 L161.9 669 L160.3 668.4 L162 667.6 Z" fill="#000"/>
<path d="M191.7 664.2 L203.2 664.2 L197.5 673.9 Z" fill="#000"/>
<circle cx="228.6" cy="669" r="5.1" fill="none" stroke="#000" stroke-width="1.4"/>
<path d="M228.6 664.8 V669.4 H232.6" fill="none" stroke="#000" stroke-width="1.3"/>
<path d="M228.6 674 v1.2 M223.2 669 h-0.9 M234 669 h0.9" stroke="#000" stroke-width="1"/>
<circle cx="228.9" cy="714.2" r="4.1" fill="none" stroke="#000" stroke-width="1.3"/>
<path d="M228.9 707.6 V714.2" stroke="#000" stroke-width="1.3"/>
<line x1="116.8" y1="609.5" x2="163.1" y2="609.5" stroke="#000" stroke-width="1.25"/>
<circle cx="163.1" cy="609.5" r="2.5" fill="#000"/>
<line x1="116.8" y1="654.8" x2="163.1" y2="654.8" stroke="#000" stroke-width="1.25"/>
<circle cx="163.1" cy="654.8" r="2.5" fill="#000"/>
<line x1="311.7" y1="577.8" x2="200.9" y2="609.4" stroke="#000" stroke-width="1.25"/>
<circle cx="200.9" cy="609.4" r="2.5" fill="#000"/>
<line x1="311.7" y1="609.5" x2="232.2" y2="609.5" stroke="#000" stroke-width="1.25"/>
<circle cx="232.2" cy="609.5" r="2.5" fill="#000"/>
<line x1="311.7" y1="632.2" x2="200.9" y2="654.2" stroke="#000" stroke-width="1.25"/>
<circle cx="200.9" cy="654.2" r="2.5" fill="#000"/>
<line x1="311.7" y1="664.6" x2="232.2" y2="655" stroke="#000" stroke-width="1.25"/>
<circle cx="232.2" cy="655" r="2.5" fill="#000"/>
<line x1="311.7" y1="709.8" x2="232.8" y2="698.3" stroke="#000" stroke-width="1.25"/>
<circle cx="232.8" cy="698.3" r="2.5" fill="#000"/>
<text transform="translate(94.45 618.60) scale(1.064 1)" font-size="22.53" font-weight="700" fill="#b2b2b2" stroke="#b2b2b2" stroke-width="0.5">D</text>
<text transform="translate(94.69 664.20) scale(1.034 1)" font-size="22.53" font-weight="700" fill="#b2b2b2" stroke="#b2b2b2" stroke-width="0.5">H</text>
<text transform="translate(315.81 584.80) scale(0.882 1)" font-size="22.67" font-weight="700" fill="#b2b2b2" stroke="#b2b2b2" stroke-width="0.5">B</text>
<text transform="translate(316.65 617.00) scale(0.794 1)" font-size="22.67" font-weight="700" fill="#b2b2b2" stroke="#b2b2b2" stroke-width="0.5">E</text>
<text transform="translate(315.15 640.40) scale(0.857 1)" font-size="22.67" font-weight="700" fill="#b2b2b2" stroke="#b2b2b2" stroke-width="0.5">C</text>
<text transform="translate(314.92 673.90) scale(0.933 1)" font-size="22.67" font-weight="700" fill="#b2b2b2" stroke="#b2b2b2" stroke-width="0.5">A</text>
<text transform="translate(316.52 719.10) scale(0.878 1)" font-size="22.67" font-weight="700" fill="#b2b2b2" stroke="#b2b2b2" stroke-width="0.5">F</text>
<line x1="124" y1="559" x2="158.9" y2="588.4" stroke="#000" stroke-width="1.25"/>
<circle cx="158.9" cy="588.4" r="2.4" fill="#000"/>
<rect x="91.2" y="529" width="34.4" height="34.4" rx="7.5" ry="7.5" fill="#000"/>
<g transform="translate(108.40 554.20) scale(1.04 1)"><text y="0" font-size="22.0" font-weight="700" fill="#fff" stroke="#fff" stroke-width="0.85" stroke-linejoin="miter"><tspan x="-12.37">1</tspan><tspan x="-0.24">4</tspan></text><rect x="-12.40" y="-3.87" width="4.75" height="5.30" fill="#000"/><rect x="-3.79" y="-3.87" width="4.47" height="5.30" fill="#000"/></g>
<path d="M525.3 547.2 H601" fill="none" stroke="#151515" stroke-width="1.15"/>
<path d="M526.4 550.5 H600 L591.8 581.6 H533.8 Z" fill="none" stroke="#151515" stroke-width="1.15"/>
<path d="M525.6 547.2 L526.4 550.5 M600.8 547.2 L600 550.5" fill="none" stroke="#151515" stroke-width="1.15"/>
<rect x="533.8" y="581.6" width="58" height="17.3" fill="none" stroke="#151515" stroke-width="1.15"/>
<path d="M533.8 581.6 L558.2 552.8 H565.6 L591.8 581.6" fill="none" stroke="#151515" stroke-width="1.15"/>
<rect x="620.3" y="547.6" width="39.3" height="247.2" fill="none" stroke="#151515" stroke-width="1.15"/>
<rect x="627.4" y="572.4" width="25.4" height="75.5" rx="8.5" ry="8.5" fill="none" stroke="#151515" stroke-width="1.15"/>
<path d="M542.5 646.1 H567.8 V650 M557.6 791 V795.1 H582.5" fill="none" stroke="#151515" stroke-width="1.15"/>
<line x1="543.4" y1="649.35" x2="581.5" y2="654.20" stroke="#111" stroke-width="6.2" stroke-linecap="round"/>
<line x1="543.4" y1="654.44" x2="581.5" y2="659.29" stroke="#111" stroke-width="6.2" stroke-linecap="round"/>
<line x1="543.4" y1="659.54" x2="581.5" y2="664.39" stroke="#111" stroke-width="6.2" stroke-linecap="round"/>
<line x1="543.4" y1="664.64" x2="581.5" y2="669.49" stroke="#111" stroke-width="6.2" stroke-linecap="round"/>
<line x1="543.4" y1="669.73" x2="581.5" y2="674.58" stroke="#111" stroke-width="6.2" stroke-linecap="round"/>
<line x1="543.4" y1="674.83" x2="581.5" y2="679.68" stroke="#111" stroke-width="6.2" stroke-linecap="round"/>
<line x1="543.4" y1="679.92" x2="581.5" y2="684.77" stroke="#111" stroke-width="6.2" stroke-linecap="round"/>
<line x1="543.4" y1="685.02" x2="581.5" y2="689.87" stroke="#111" stroke-width="6.2" stroke-linecap="round"/>
<line x1="543.4" y1="690.12" x2="581.5" y2="694.97" stroke="#111" stroke-width="6.2" stroke-linecap="round"/>
<line x1="543.4" y1="695.21" x2="581.5" y2="700.06" stroke="#111" stroke-width="6.2" stroke-linecap="round"/>
<line x1="543.4" y1="700.31" x2="581.5" y2="705.16" stroke="#111" stroke-width="6.2" stroke-linecap="round"/>
<line x1="543.4" y1="705.40" x2="581.5" y2="710.25" stroke="#111" stroke-width="6.2" stroke-linecap="round"/>
<line x1="543.4" y1="710.50" x2="581.5" y2="715.35" stroke="#111" stroke-width="6.2" stroke-linecap="round"/>
<line x1="543.4" y1="715.60" x2="581.5" y2="720.45" stroke="#111" stroke-width="6.2" stroke-linecap="round"/>
<line x1="543.4" y1="720.69" x2="581.5" y2="725.54" stroke="#111" stroke-width="6.2" stroke-linecap="round"/>
<line x1="543.4" y1="725.79" x2="581.5" y2="730.64" stroke="#111" stroke-width="6.2" stroke-linecap="round"/>
<line x1="543.4" y1="730.88" x2="581.5" y2="735.73" stroke="#111" stroke-width="6.2" stroke-linecap="round"/>
<line x1="543.4" y1="735.98" x2="581.5" y2="740.83" stroke="#111" stroke-width="6.2" stroke-linecap="round"/>
<line x1="543.4" y1="741.08" x2="581.5" y2="745.93" stroke="#111" stroke-width="6.2" stroke-linecap="round"/>
<line x1="543.4" y1="746.17" x2="581.5" y2="751.02" stroke="#111" stroke-width="6.2" stroke-linecap="round"/>
<line x1="543.4" y1="751.27" x2="581.5" y2="756.12" stroke="#111" stroke-width="6.2" stroke-linecap="round"/>
<line x1="543.4" y1="756.36" x2="581.5" y2="761.21" stroke="#111" stroke-width="6.2" stroke-linecap="round"/>
<line x1="543.4" y1="761.46" x2="581.5" y2="766.31" stroke="#111" stroke-width="6.2" stroke-linecap="round"/>
<line x1="543.4" y1="766.56" x2="581.5" y2="771.41" stroke="#111" stroke-width="6.2" stroke-linecap="round"/>
<line x1="543.4" y1="771.65" x2="581.5" y2="776.50" stroke="#111" stroke-width="6.2" stroke-linecap="round"/>
<line x1="543.4" y1="776.75" x2="581.5" y2="781.60" stroke="#111" stroke-width="6.2" stroke-linecap="round"/>
<line x1="543.4" y1="781.84" x2="581.5" y2="786.69" stroke="#111" stroke-width="6.2" stroke-linecap="round"/>
<line x1="543.4" y1="786.94" x2="581.5" y2="791.79" stroke="#111" stroke-width="6.2" stroke-linecap="round"/>
<line x1="543.4" y1="649.35" x2="581.5" y2="654.20" stroke="#fff" stroke-width="3.9" stroke-linecap="round"/>
<line x1="543.4" y1="654.44" x2="581.5" y2="659.29" stroke="#fff" stroke-width="3.9" stroke-linecap="round"/>
<line x1="543.4" y1="659.54" x2="581.5" y2="664.39" stroke="#fff" stroke-width="3.9" stroke-linecap="round"/>
<line x1="543.4" y1="664.64" x2="581.5" y2="669.49" stroke="#fff" stroke-width="3.9" stroke-linecap="round"/>
<line x1="543.4" y1="669.73" x2="581.5" y2="674.58" stroke="#fff" stroke-width="3.9" stroke-linecap="round"/>
<line x1="543.4" y1="674.83" x2="581.5" y2="679.68" stroke="#fff" stroke-width="3.9" stroke-linecap="round"/>
<line x1="543.4" y1="679.92" x2="581.5" y2="684.77" stroke="#fff" stroke-width="3.9" stroke-linecap="round"/>
<line x1="543.4" y1="685.02" x2="581.5" y2="689.87" stroke="#fff" stroke-width="3.9" stroke-linecap="round"/>
<line x1="543.4" y1="690.12" x2="581.5" y2="694.97" stroke="#fff" stroke-width="3.9" stroke-linecap="round"/>
<line x1="543.4" y1="695.21" x2="581.5" y2="700.06" stroke="#fff" stroke-width="3.9" stroke-linecap="round"/>
<line x1="543.4" y1="700.31" x2="581.5" y2="705.16" stroke="#fff" stroke-width="3.9" stroke-linecap="round"/>
<line x1="543.4" y1="705.40" x2="581.5" y2="710.25" stroke="#fff" stroke-width="3.9" stroke-linecap="round"/>
<line x1="543.4" y1="710.50" x2="581.5" y2="715.35" stroke="#fff" stroke-width="3.9" stroke-linecap="round"/>
<line x1="543.4" y1="715.60" x2="581.5" y2="720.45" stroke="#fff" stroke-width="3.9" stroke-linecap="round"/>
<line x1="543.4" y1="720.69" x2="581.5" y2="725.54" stroke="#fff" stroke-width="3.9" stroke-linecap="round"/>
<line x1="543.4" y1="725.79" x2="581.5" y2="730.64" stroke="#fff" stroke-width="3.9" stroke-linecap="round"/>
<line x1="543.4" y1="730.88" x2="581.5" y2="735.73" stroke="#fff" stroke-width="3.9" stroke-linecap="round"/>
<line x1="543.4" y1="735.98" x2="581.5" y2="740.83" stroke="#fff" stroke-width="3.9" stroke-linecap="round"/>
<line x1="543.4" y1="741.08" x2="581.5" y2="745.93" stroke="#fff" stroke-width="3.9" stroke-linecap="round"/>
<line x1="543.4" y1="746.17" x2="581.5" y2="751.02" stroke="#fff" stroke-width="3.9" stroke-linecap="round"/>
<line x1="543.4" y1="751.27" x2="581.5" y2="756.12" stroke="#fff" stroke-width="3.9" stroke-linecap="round"/>
<line x1="543.4" y1="756.36" x2="581.5" y2="761.21" stroke="#fff" stroke-width="3.9" stroke-linecap="round"/>
<line x1="543.4" y1="761.46" x2="581.5" y2="766.31" stroke="#fff" stroke-width="3.9" stroke-linecap="round"/>
<line x1="543.4" y1="766.56" x2="581.5" y2="771.41" stroke="#fff" stroke-width="3.9" stroke-linecap="round"/>
<line x1="543.4" y1="771.65" x2="581.5" y2="776.50" stroke="#fff" stroke-width="3.9" stroke-linecap="round"/>
<line x1="543.4" y1="776.75" x2="581.5" y2="781.60" stroke="#fff" stroke-width="3.9" stroke-linecap="round"/>
<line x1="543.4" y1="781.84" x2="581.5" y2="786.69" stroke="#fff" stroke-width="3.9" stroke-linecap="round"/>
<line x1="543.4" y1="786.94" x2="581.5" y2="791.79" stroke="#fff" stroke-width="3.9" stroke-linecap="round"/>
<line x1="494" y1="564.3" x2="558.5" y2="564.3" stroke="#000" stroke-width="1.25"/>
<circle cx="558.5" cy="564.3" r="2.4" fill="#000"/>
<line x1="690.8" y1="564.3" x2="651.5" y2="564.3" stroke="#000" stroke-width="1.25"/>
<circle cx="651.5" cy="564.3" r="2.4" fill="#000"/>
<line x1="511.3" y1="778.1" x2="557.9" y2="778.1" stroke="#000" stroke-width="1.25"/>
<circle cx="557.9" cy="778.1" r="2.4" fill="#000"/>
<rect x="459.6" y="547.2" width="34.4" height="34.4" rx="7.5" ry="7.5" fill="#000"/>
<g transform="translate(476.80 572.40) scale(1.04 1)"><text y="0" font-size="22.0" font-weight="700" fill="#fff" stroke="#fff" stroke-width="0.85" stroke-linejoin="miter"><tspan x="-12.37">1</tspan><tspan x="-0.24">5</tspan></text><rect x="-12.40" y="-3.87" width="4.75" height="5.30" fill="#000"/><rect x="-3.79" y="-3.87" width="4.47" height="5.30" fill="#000"/></g>
<rect x="690.6" y="547.2" width="34.4" height="34.4" rx="7.5" ry="7.5" fill="#000"/>
<g transform="translate(707.80 572.40) scale(1.04 1)"><text y="0" font-size="22.0" font-weight="700" fill="#fff" stroke="#fff" stroke-width="0.85" stroke-linejoin="miter"><tspan x="-12.37">1</tspan><tspan x="-0.24">7</tspan></text><rect x="-12.40" y="-3.87" width="4.75" height="5.30" fill="#000"/><rect x="-3.79" y="-3.87" width="4.47" height="5.30" fill="#000"/></g>
<rect x="477.2" y="761.2" width="34.4" height="34.4" rx="7.5" ry="7.5" fill="#000"/>
<g transform="translate(494.40 786.40) scale(1.04 1)"><text y="0" font-size="22.0" font-weight="700" fill="#fff" stroke="#fff" stroke-width="0.85" stroke-linejoin="miter"><tspan x="-12.37">1</tspan><tspan x="-0.24">6</tspan></text><rect x="-12.40" y="-3.87" width="4.75" height="5.30" fill="#000"/><rect x="-3.79" y="-3.87" width="4.47" height="5.30" fill="#000"/></g>
<path d="M356 867.1 Q551 855.6 746 867.1 Q757 867.8 758 878.5 Q771.6 1002 758 1126 Q757 1136.2 746 1137 Q551 1148.8 356 1137 Q345.3 1136.2 344.3 1126 Q332.6 1002 344.3 878.5 Q345.3 867.8 356 867.1 Z" fill="none" stroke="#111" stroke-width="1.3"/>
<circle cx="461" cy="920.9" r="15" fill="none" stroke="#1a1a1a" stroke-width="0.9"/>
<circle cx="507.4" cy="920.9" r="15" fill="none" stroke="#1a1a1a" stroke-width="0.9"/>
<circle cx="592.2" cy="920.9" r="15" fill="none" stroke="#1a1a1a" stroke-width="0.9"/>
<circle cx="638.5" cy="920.9" r="15" fill="none" stroke="#1a1a1a" stroke-width="0.9"/>
<circle cx="638.6" cy="971.6" r="15" fill="none" stroke="#1a1a1a" stroke-width="0.9"/>
<circle cx="638.6" cy="1018" r="15" fill="none" stroke="#1a1a1a" stroke-width="0.9"/>
<circle cx="461.2" cy="1018" r="15" fill="none" stroke="#1a1a1a" stroke-width="0.9"/>
<path d="M460.8 910.5999999999999 V931.0 M454.2 920.8 H467.40000000000003 M453.3 913.3 L468.3 928.3 M468.3 913.3 L453.3 928.3 M458.8 913.4 H462.8 M458.8 928.1999999999999 H462.8 M464.09999999999997 928.3 L468.3 924.0999999999999 M464.09999999999997 913.3 L468.3 917.5 M457.50000000000006 928.3 L453.3 924.0999999999999 M457.50000000000006 913.3 L453.3 917.5 M463.48 921.91 L461.91 923.48 L459.69 923.48 L458.12 921.91 L458.12 919.69 L459.69 918.12 L461.91 918.12 L463.48 919.69 Z" fill="none" stroke="#444" stroke-width="0.6"/>
<path d="M507.4 911.6 C509.4 915.9 513.1999999999999 919.4 513.1999999999999 923.6999999999999 A5.8 5.8 0 0 1 501.59999999999997 923.6999999999999 C501.59999999999997 919.4 505.4 915.9 507.4 911.6 Z" fill="none" stroke="#222" stroke-width="0.9"/>
<path d="M507.6 922.6 L515 918.5 M507.8 924.8 L514.2 921.7 M512.7 917.8 L511.5 922.8" fill="none" stroke="#222" stroke-width="0.85"/>
<path d="M0.5 0.5 C -4.37 -2.60 -3.74 -8.32 0.21 -10.40 Q 1.25 -10.40 1.25 -9.36 C 0.42 -6.86 0.42 -3.12 0.5 0.5 Z" transform="translate(592.3 921.2) rotate(10)" fill="#000"/>
<path d="M0.5 0.5 C -4.37 -2.60 -3.74 -8.32 0.21 -10.40 Q 1.25 -10.40 1.25 -9.36 C 0.42 -6.86 0.42 -3.12 0.5 0.5 Z" transform="translate(592.3 921.2) rotate(82)" fill="#000"/>
<path d="M0.5 0.5 C -4.37 -2.60 -3.74 -8.32 0.21 -10.40 Q 1.25 -10.40 1.25 -9.36 C 0.42 -6.86 0.42 -3.12 0.5 0.5 Z" transform="translate(592.3 921.2) rotate(154)" fill="#000"/>
<path d="M0.5 0.5 C -4.37 -2.60 -3.74 -8.32 0.21 -10.40 Q 1.25 -10.40 1.25 -9.36 C 0.42 -6.86 0.42 -3.12 0.5 0.5 Z" transform="translate(592.3 921.2) rotate(226)" fill="#000"/>
<path d="M0.5 0.5 C -4.37 -2.60 -3.74 -8.32 0.21 -10.40 Q 1.25 -10.40 1.25 -9.36 C 0.42 -6.86 0.42 -3.12 0.5 0.5 Z" transform="translate(592.3 921.2) rotate(298)" fill="#000"/>
<path d="M636.6 911 A10.1 10.1 0 1 1 636 931 A11.4 11.4 0 0 0 636.6 911 Z" fill="#000"/>
<polygon points="633.00,913.60 633.94,916.31 636.80,916.36 634.52,918.09 635.35,920.84 633.00,919.20 630.65,920.84 631.48,918.09 629.20,916.36 632.06,916.31" fill="#000"/>
<path d="M637.6 921.8 l1.6 2.8 h-3.2 Z" fill="#000"/>
<text x="628.6" y="979" font-size="20.5" font-weight="700" fill="#000" stroke="#000" stroke-width="0.3"><tspan font-size="15" dy="-2.2">°</tspan><tspan dy="2.2" dx="-2.4">C</tspan></text>
<text x="638.6" y="1024.2" font-size="18" font-weight="700" fill="#000" stroke="#000" stroke-width="0.45" text-anchor="middle" letter-spacing="-0.9">Hr</text>
<path d="M452.59999999999997 1013 L453.0 1024 Q453.2 1027.2 456.2 1027.2 H462.8 Q465.59999999999997 1027.2 465.8 1024 L466.2 1013" fill="none" stroke="#222" stroke-width="0.9"/>
<path d="M454.59999999999997 1018.4 H464.4 M454.59999999999997 1020.4 H464.4 M454.59999999999997 1022.3 H464.4 M454.59999999999997 1024.2 H464.4" fill="none" stroke="#333" stroke-width="0.6"/>
<path d="M0 -2.6 C1 -1 1.7 0 1.7 1 A1.7 1.7 0 0 1 -1.7 1 C-1.7 0 -1 -1 0 -2.6 Z" fill="#000" transform="translate(463.8 1010.4) rotate(-50)"/>
<path d="M0 -2.6 C1 -1 1.7 0 1.7 1 A1.7 1.7 0 0 1 -1.7 1 C-1.7 0 -1 -1 0 -2.6 Z" fill="#000" transform="translate(468.2 1012.8) rotate(-20)"/>
<path d="M0 -2.6 C1 -1 1.7 0 1.7 1 A1.7 1.7 0 0 1 -1.7 1 C-1.7 0 -1 -1 0 -2.6 Z" fill="#000" transform="translate(469.4 1018.8) rotate(10)"/>
<rect x="492.2" y="956.5" width="115.5" height="76.8" rx="4.5" ry="4.5" fill="none" stroke="#111" stroke-width="1.3"/>
<g transform="translate(519.9 968.1) skewX(-7.5)" fill="#000"><polygon points="7.00,0.00 24.00,0.00 27.30,3.00 24.60,6.00 6.40,6.00 3.70,3.00"/><polygon points="6.40,47.80 24.60,47.80 27.30,50.80 24.00,53.80 7.00,53.80 3.70,50.80"/><polygon points="0.00,6.70 3.00,3.70 6.00,7.00 6.00,22.90 3.00,26.20 0.00,23.20"/><polygon points="0.00,30.60 3.00,27.60 6.00,30.90 6.00,46.80 3.00,50.10 0.00,47.10"/><polygon points="25.00,7.00 28.00,3.70 31.00,6.70 31.00,23.20 28.00,26.20 25.00,22.90"/><polygon points="25.00,30.90 28.00,27.60 31.00,30.60 31.00,47.10 28.00,50.10 25.00,46.80"/></g>
<g transform="translate(555.9 968.1) skewX(-7.5)" fill="#000"><polygon points="7.00,0.00 24.00,0.00 27.30,3.00 24.60,6.00 6.40,6.00 3.70,3.00"/><polygon points="6.40,47.80 24.60,47.80 27.30,50.80 24.00,53.80 7.00,53.80 3.70,50.80"/><polygon points="0.00,6.70 3.00,3.70 6.00,7.00 6.00,22.90 3.00,26.20 0.00,23.20"/><polygon points="0.00,30.60 3.00,27.60 6.00,30.90 6.00,46.80 3.00,50.10 0.00,47.10"/><polygon points="25.00,7.00 28.00,3.70 31.00,6.70 31.00,23.20 28.00,26.20 25.00,22.90"/><polygon points="25.00,30.90 28.00,27.60 31.00,30.60 31.00,47.10 28.00,50.10 25.00,46.80"/></g>
<line x1="551.2" y1="913.3" x2="551.2" y2="962.4" stroke="#000" stroke-width="1.25"/>
<circle cx="551.2" cy="962.4" r="2.7" fill="#000"/>
<text transform="translate(551 906.9) scale(0.86 1)" font-size="25.97" font-weight="700" fill="#b2b2b2" stroke="#b2b2b2" stroke-width="0.5" text-anchor="middle">G</text>
<circle cx="405.7" cy="1082.4" r="20.1" fill="none" stroke="#1a1a1a" stroke-width="0.95"/>
<circle cx="464.2" cy="1082.4" r="20.1" fill="none" stroke="#1a1a1a" stroke-width="0.95"/>
<circle cx="522.6" cy="1082.4" r="20.1" fill="none" stroke="#1a1a1a" stroke-width="0.95"/>
<circle cx="581.0" cy="1082.4" r="20.1" fill="none" stroke="#1a1a1a" stroke-width="0.95"/>
<circle cx="639.4" cy="1082.4" r="20.1" fill="none" stroke="#1a1a1a" stroke-width="0.95"/>
<circle cx="698.2" cy="1082.4" r="20.1" fill="none" stroke="#1a1a1a" stroke-width="0.95"/>
<circle cx="405.2" cy="1082.4" r="12.8" fill="none" stroke="#222" stroke-width="0.95"/>
<path d="M405.2 1074.8 V1083.4 H399.4" fill="none" stroke="#333" stroke-width="0.8"/>
<path d="M461.77 1070.28 Q463.80 1066.60 465.83 1070.28 L476.57 1089.72 Q478.60 1093.40 474.40 1093.40 L453.20 1093.40 Q449.00 1093.40 451.03 1089.72 Z" fill="none" stroke="#222" stroke-width="0.95"/>
<path d="M524.69 1094.76 Q522.60 1098.40 520.51 1094.76 L509.69 1075.84 Q507.60 1072.20 511.80 1072.20 L533.40 1072.20 Q537.60 1072.20 535.51 1075.84 Z" fill="none" stroke="#222" stroke-width="0.95"/>
<path d="M0.6 0.4 C -4.96 -4.09 -4.38 -11.39 0.00 -14.60 Q 0.88 -14.89 1.02 -13.87 C 0.00 -10.22 -0.44 -4.38 0.6 0.4 Z" transform="translate(580.8 1082.3) rotate(18)" fill="none" stroke="#333" stroke-width="0.75" stroke-linejoin="round"/>
<path d="M0.6 0.4 C -4.96 -4.09 -4.38 -11.39 0.00 -14.60 Q 0.88 -14.89 1.02 -13.87 C 0.00 -10.22 -0.44 -4.38 0.6 0.4 Z" transform="translate(580.8 1082.3) rotate(90)" fill="none" stroke="#333" stroke-width="0.75" stroke-linejoin="round"/>
<path d="M0.6 0.4 C -4.96 -4.09 -4.38 -11.39 0.00 -14.60 Q 0.88 -14.89 1.02 -13.87 C 0.00 -10.22 -0.44 -4.38 0.6 0.4 Z" transform="translate(580.8 1082.3) rotate(162)" fill="none" stroke="#333" stroke-width="0.75" stroke-linejoin="round"/>
<path d="M0.6 0.4 C -4.96 -4.09 -4.38 -11.39 0.00 -14.60 Q 0.88 -14.89 1.02 -13.87 C 0.00 -10.22 -0.44 -4.38 0.6 0.4 Z" transform="translate(580.8 1082.3) rotate(234)" fill="none" stroke="#333" stroke-width="0.75" stroke-linejoin="round"/>
<path d="M0.6 0.4 C -4.96 -4.09 -4.38 -11.39 0.00 -14.60 Q 0.88 -14.89 1.02 -13.87 C 0.00 -10.22 -0.44 -4.38 0.6 0.4 Z" transform="translate(580.8 1082.3) rotate(306)" fill="none" stroke="#333" stroke-width="0.75" stroke-linejoin="round"/>
<rect x="627.6" y="1071" width="11.3" height="10.8" rx="3" ry="3" fill="#000"/>
<rect x="640.2" y="1071" width="11.3" height="10.8" rx="3" ry="3" fill="#000"/>
<rect x="627.6" y="1083" width="11.3" height="10.8" rx="3" ry="3" fill="#000"/>
<rect x="640.2" y="1083" width="11.3" height="10.8" rx="3" ry="3" fill="#000"/>
<path d="M692.6 1070.4 A13.2 13.2 0 1 0 703.8 1070.4" fill="none" stroke="#333" stroke-width="0.9"/>
<path d="M698.2 1068.4 V1083.4" fill="none" stroke="#333" stroke-width="0.9"/>
<text transform="translate(394.94 1128.40) scale(1.051 1)" font-size="23.11" font-weight="700" fill="#b2b2b2" stroke="#b2b2b2" stroke-width="0.5">A</text>
<text transform="translate(455.26 1128.40) scale(0.965 1)" font-size="23.11" font-weight="700" fill="#b2b2b2" stroke="#b2b2b2" stroke-width="0.5">B</text>
<text transform="translate(514.81 1128.40) scale(0.993 1)" font-size="23.11" font-weight="700" fill="#b2b2b2" stroke="#b2b2b2" stroke-width="0.5">C</text>
<text transform="translate(577.34 1128.40) scale(1.108 1)" font-size="23.11" font-weight="700" fill="#b2b2b2" stroke="#b2b2b2" stroke-width="0.5">D</text>
<text transform="translate(635.96 1128.40) scale(0.833 1)" font-size="23.11" font-weight="700" fill="#b2b2b2" stroke="#b2b2b2" stroke-width="0.5">E</text>
<text transform="translate(691.02 1128.40) scale(0.989 1)" font-size="23.11" font-weight="700" fill="#b2b2b2" stroke="#b2b2b2" stroke-width="0.5">F</text>
<text x="55.0" y="1149.3" font-size="25" font-weight="700" fill="#000" stroke="#000" stroke-width="1.0">1</text>
<rect x="54.87" y="1145.05" width="5.46" height="5.95" fill="#fff"/>
<rect x="64.77" y="1145.05" width="5.34" height="5.95" fill="#fff"/>
</svg>
</body>
</html>
